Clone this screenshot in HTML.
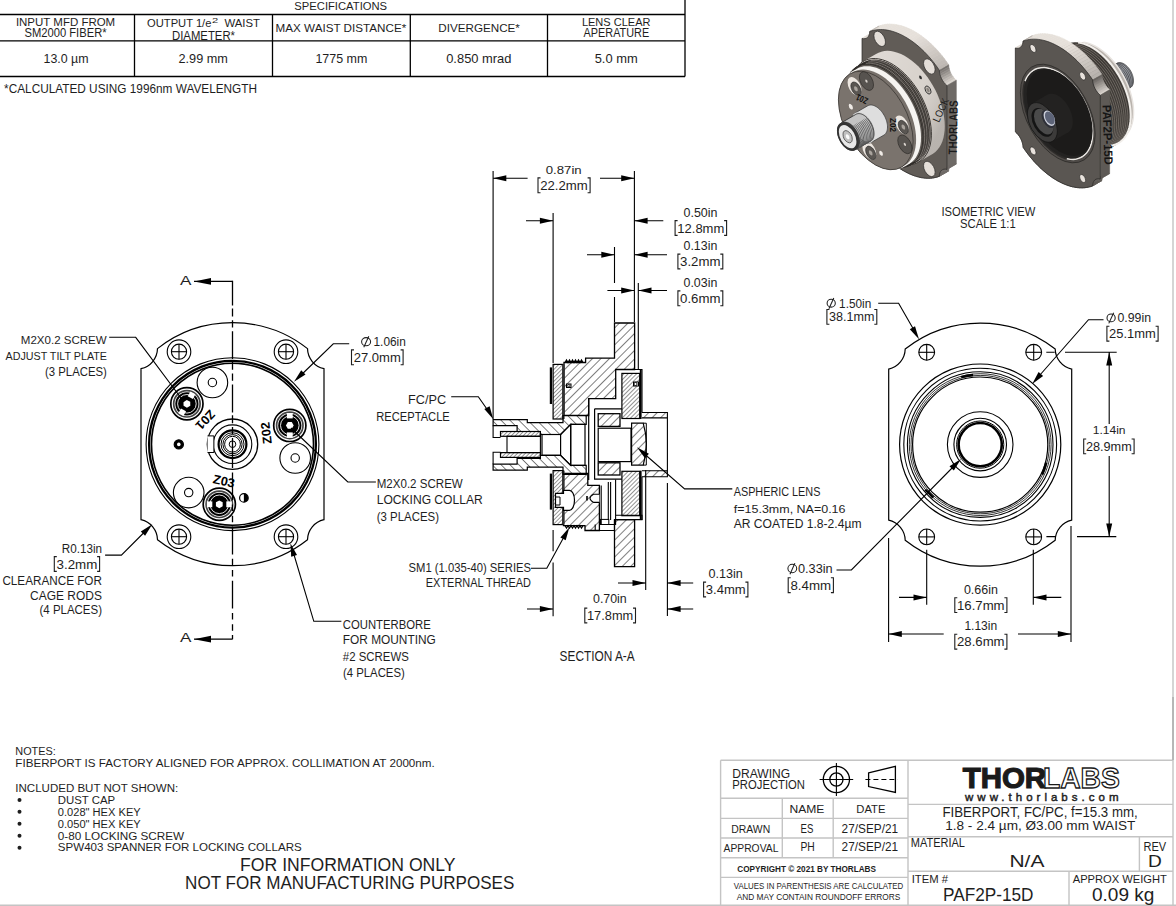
<!DOCTYPE html>
<html><head><meta charset="utf-8"><style>
html,body{margin:0;padding:0;background:#fff;}
body{width:1176px;height:906px;overflow:hidden;position:relative;}
svg{position:absolute;left:0;top:0;}
text{font-family:"Liberation Sans", sans-serif;}
</style></head><body>
<svg width="1176" height="906" viewBox="0 0 1176 906">
<defs>
<pattern id="h1" patternUnits="userSpaceOnUse" width="6" height="6" patternTransform="rotate(45)"><line x1="0" y1="0" x2="0" y2="6" stroke="#000" stroke-width="1.0"/></pattern>
<pattern id="h2" patternUnits="userSpaceOnUse" width="3" height="3" patternTransform="rotate(45)"><line x1="0" y1="0" x2="0" y2="3" stroke="#000" stroke-width="0.85"/></pattern>
<pattern id="h3" patternUnits="userSpaceOnUse" width="6.3" height="6.3" patternTransform="rotate(-45)"><line x1="0" y1="0" x2="0" y2="6.3" stroke="#000" stroke-width="1.0"/></pattern>
<pattern id="h4" patternUnits="userSpaceOnUse" width="2.8" height="2.8" patternTransform="rotate(45)"><line x1="0" y1="0" x2="0" y2="2.8" stroke="#000" stroke-width="0.8"/></pattern>

<linearGradient id="gbody" x1="0" y1="0" x2="1" y2="0.6"><stop offset="0" stop-color="#ffffff" stop-opacity="0.25"/><stop offset="0.6" stop-color="#ffffff" stop-opacity="0"/><stop offset="1" stop-color="#000" stop-opacity="0.15"/></linearGradient>
<clipPath id="cliplr1"><rect x="840" y="0" width="200" height="200"/></clipPath>
</defs>
<g stroke="#000" stroke-width="1.3" fill="none"><path d="M0 14.5 H685 M685 0 V76.5 M0 40.8 H685 M0 76.5 H685 M134.5 14.5 V76.5 M272.5 14.5 V76.5 M410.3 14.5 V76.5 M547.5 14.5 V76.5"/></g><circle cx="19.5" cy="799.9" r="2.0" stroke="#000" stroke-width="0" fill="#1e1e1e" /><circle cx="19.5" cy="811.85" r="2.0" stroke="#000" stroke-width="0" fill="#1e1e1e" /><circle cx="19.5" cy="823.8" r="2.0" stroke="#000" stroke-width="0" fill="#1e1e1e" /><circle cx="19.5" cy="835.75" r="2.0" stroke="#000" stroke-width="0" fill="#1e1e1e" /><circle cx="19.5" cy="847.6999999999999" r="2.0" stroke="#000" stroke-width="0" fill="#1e1e1e" /><g stroke="#c4c4c4" stroke-width="1.4" fill="none"><path d="M720.6 760.3 H1173 M1173 0 V906 M0 905.2 H1176 M720.6 760.3 V906 M908 760.3 V906 M720.6 798.2 H908 M720.6 818.4 H908 M720.6 838 H908 M720.6 857.7 H908 M720.6 877.4 H908 M782.3 798.2 V857.7 M833.2 798.2 V857.7 M908 804.4 H1173 M908 836.8 H1173 M908 871.3 H1173 M1139.4 836.8 V871.3 M1069 871.3 V906"/></g><line x1="1173" y1="697" x2="1173" y2="760" stroke="#aaaaaa" stroke-width="1.4"/><circle cx="836.4" cy="779.5" r="13.1" stroke="#000" stroke-width="1.3" fill="none" /><circle cx="836.4" cy="779.5" r="6.6" stroke="#000" stroke-width="1.3" fill="none" /><line x1="819.6" y1="779.5" x2="853.2" y2="779.5" stroke="#000" stroke-width="1.1" /><line x1="836.4" y1="762.9" x2="836.4" y2="796.1" stroke="#000" stroke-width="1.1" /><polygon points="868.6,772.9 895.4,766.4 895.4,792.5 868.6,786.6" fill="none" stroke="#000" stroke-width="1.3"/><line x1="865.4" y1="779.5" x2="897.5" y2="779.5" stroke="#000" stroke-width="1.1" stroke-dasharray="5 3"/><path d="M141.0 368.7 A21 21 0 0 0 157.5 348.6 A121.5 121.5 0 0 1 307.5 348.6 A21 21 0 0 0 324.0 368.7 L324.0 519.7 A21 21 0 0 0 307.5 539.8 A121.5 121.5 0 0 1 157.5 539.8 A21 21 0 0 0 141.0 519.7 Z" fill="none" stroke="#000" stroke-width="1.2"/><circle cx="179.0" cy="351.7" r="11.8" stroke="#000" stroke-width="1.1" fill="none" /><circle cx="179.0" cy="351.7" r="7.6" stroke="#000" stroke-width="1.1" fill="none" /><line x1="171.4" y1="351.7" x2="186.6" y2="351.7" stroke="#000" stroke-width="1.1" /><line x1="179.0" y1="344.09999999999997" x2="179.0" y2="359.3" stroke="#000" stroke-width="1.1" /><circle cx="179.0" cy="536.7" r="11.8" stroke="#000" stroke-width="1.1" fill="none" /><circle cx="179.0" cy="536.7" r="7.6" stroke="#000" stroke-width="1.1" fill="none" /><line x1="171.4" y1="536.7" x2="186.6" y2="536.7" stroke="#000" stroke-width="1.1" /><line x1="179.0" y1="529.1" x2="179.0" y2="544.3000000000001" stroke="#000" stroke-width="1.1" /><circle cx="286.0" cy="351.7" r="11.8" stroke="#000" stroke-width="1.1" fill="none" /><circle cx="286.0" cy="351.7" r="7.6" stroke="#000" stroke-width="1.1" fill="none" /><line x1="278.4" y1="351.7" x2="293.6" y2="351.7" stroke="#000" stroke-width="1.1" /><line x1="286.0" y1="344.09999999999997" x2="286.0" y2="359.3" stroke="#000" stroke-width="1.1" /><circle cx="286.0" cy="536.7" r="11.8" stroke="#000" stroke-width="1.1" fill="none" /><circle cx="286.0" cy="536.7" r="7.6" stroke="#000" stroke-width="1.1" fill="none" /><line x1="278.4" y1="536.7" x2="293.6" y2="536.7" stroke="#000" stroke-width="1.1" /><line x1="286.0" y1="529.1" x2="286.0" y2="544.3000000000001" stroke="#000" stroke-width="1.1" /><circle cx="232.5" cy="444.2" r="86.4" stroke="#000" stroke-width="1.1" fill="none" /><circle cx="232.5" cy="444.2" r="83.4" stroke="#000" stroke-width="2.3" fill="none" /><circle cx="232.5" cy="444.2" r="81.0" stroke="#000" stroke-width="1.6" fill="none" /><circle cx="232.5" cy="444.2" r="25.2" stroke="#000" stroke-width="1.3" fill="none" /><circle cx="232.5" cy="444.2" r="19.3" stroke="#000" stroke-width="1.1" fill="none" /><path d="M207.5 435.9 H213.9 V452.5 H207.5" fill="#fff" stroke="#000" stroke-width="1"/><circle cx="232.5" cy="444.2" r="13.9" stroke="#000" stroke-width="2.2" fill="none" /><circle cx="232.5" cy="444.2" r="11.5" stroke="#000" stroke-width="1.0" fill="none" /><circle cx="232.5" cy="444.2" r="9.6" stroke="#000" stroke-width="1.0" fill="none" /><circle cx="232.5" cy="444.2" r="7.9" stroke="#000" stroke-width="1.0" fill="none" /><circle cx="232.5" cy="444.2" r="3.3" stroke="#000" stroke-width="1.0" fill="none" /><circle cx="186.9" cy="403.8" r="16.1" stroke="#000" stroke-width="1.7" fill="#fff" /><circle cx="186.9" cy="403.8" r="13.2" stroke="#444" stroke-width="1.7" fill="none" /><circle cx="186.9" cy="403.8" r="11.6" stroke="#000" stroke-width="0" fill="#000" /><circle cx="186.9" cy="403.8" r="9.3" stroke="#fff" stroke-width="0.9" fill="none" /><polygon points="190.31,405.69 186.97,407.70 183.56,405.81 183.49,401.91 186.83,399.90 190.24,401.79" fill="#fff"/><g transform="translate(186.9 403.8) rotate(29)"><rect x="-2.9" y="-12.4" width="5.8" height="5.4" fill="#fff"/><rect x="-2.9" y="7.0" width="5.8" height="5.4" fill="#fff"/></g><circle cx="289.8" cy="425.4" r="16.1" stroke="#000" stroke-width="1.7" fill="#fff" /><circle cx="289.8" cy="425.4" r="13.2" stroke="#444" stroke-width="1.7" fill="none" /><circle cx="289.8" cy="425.4" r="11.6" stroke="#000" stroke-width="0" fill="#000" /><circle cx="289.8" cy="425.4" r="9.3" stroke="#fff" stroke-width="0.9" fill="none" /><polygon points="293.70,425.40 291.75,428.78 287.85,428.78 285.90,425.40 287.85,422.02 291.75,422.02" fill="#fff"/><g transform="translate(289.8 425.4) rotate(0)"><rect x="-2.9" y="-12.4" width="5.8" height="5.4" fill="#fff"/><rect x="-2.9" y="7.0" width="5.8" height="5.4" fill="#fff"/></g><circle cx="219.3" cy="504.3" r="16.1" stroke="#000" stroke-width="1.7" fill="#fff" /><circle cx="219.3" cy="504.3" r="13.2" stroke="#444" stroke-width="1.7" fill="none" /><circle cx="219.3" cy="504.3" r="11.6" stroke="#000" stroke-width="0" fill="#000" /><circle cx="219.3" cy="504.3" r="9.3" stroke="#fff" stroke-width="0.9" fill="none" /><polygon points="219.30,508.20 215.92,506.25 215.92,502.35 219.30,500.40 222.68,502.35 222.68,506.25" fill="#fff"/><g transform="translate(219.3 504.3) rotate(90)"><rect x="-2.9" y="-12.4" width="5.8" height="5.4" fill="#fff"/><rect x="-2.9" y="7.0" width="5.8" height="5.4" fill="#fff"/></g><circle cx="212.4" cy="382.5" r="15.3" stroke="#000" stroke-width="1.1" fill="none" /><circle cx="212.4" cy="382.5" r="4.2" stroke="#000" stroke-width="1.1" fill="none" /><circle cx="295.2" cy="458.0" r="15.3" stroke="#000" stroke-width="1.1" fill="none" /><circle cx="295.2" cy="458.0" r="4.2" stroke="#000" stroke-width="1.1" fill="none" /><circle cx="188.7" cy="492.6" r="15.3" stroke="#000" stroke-width="1.1" fill="none" /><circle cx="188.7" cy="492.6" r="4.2" stroke="#000" stroke-width="1.1" fill="none" /><circle cx="178.8" cy="444.4" r="4.6" stroke="#000" stroke-width="1.2" fill="#000" /><circle cx="178.8" cy="444.4" r="1.8" stroke="#000" stroke-width="0" fill="#fff" /><circle cx="243.9" cy="497.9" r="4.3" stroke="#000" stroke-width="1.2" fill="none" /><path d="M243.9 493.6 A4.3 4.3 0 0 1 243.9 502.2 Z" fill="#000"/><text x="0" y="0" font-size="12.5" font-weight="bold" fill="#000" text-anchor="middle" transform="translate(205.5 420) rotate(133) translate(0 4.5)" textLength="22" lengthAdjust="spacingAndGlyphs">Z01</text><text x="0" y="0" font-size="12.5" font-weight="bold" fill="#000" text-anchor="middle" transform="translate(266 433) rotate(-96) translate(0 4.5)" textLength="22" lengthAdjust="spacingAndGlyphs">Z02</text><text x="0" y="0" font-size="12.5" font-weight="bold" fill="#000" text-anchor="middle" transform="translate(224 481) rotate(12) translate(0 4.5)" textLength="22" lengthAdjust="spacingAndGlyphs">Z03</text><path d="M232.5 639.2 V462" stroke="#000" stroke-width="1.3" fill="none" stroke-dasharray="27.8 4.3 6.5 4.8 6.5 4.3" stroke-dashoffset="23.6"/><path d="M232.5 280.8 V462" stroke="#000" stroke-width="1.3" fill="none" stroke-dasharray="27.8 2.8 8 3.8 7.2 3.8" stroke-dashoffset="3"/><path d="M194 281.4 H232.5 M194 639.2 H232.5" stroke="#000" stroke-width="1.3" fill="none"/><polygon points="194.0,281.4 211.0,278.0 211.0,284.8" fill="#000"/><polygon points="194.0,639.2 211.0,635.8 211.0,642.6" fill="#000"/><path d="M109.2 337.3 H135.7 L184 402" fill="none" stroke="#000" stroke-width="1.1"/><path d="M105.1 555.1 H121.4 L149 527.5" fill="none" stroke="#000" stroke-width="1.1"/><polygon points="152.3,524.3 145.1,535.8 140.8,531.5" fill="#000"/><path d="M56.8 556.6 H54.3 V571.4 H56.8 M97.1 556.6 H99.6 V571.4 H97.1" fill="none" stroke="#1e1e1e" stroke-width="1.1"/><path d="M349.2 343.8 H333.3 L297 379" fill="none" stroke="#000" stroke-width="1.1"/><polygon points="294.0,381.7 301.2,370.2 305.5,374.5" fill="#000"/><ellipse cx="366.1" cy="341.7" rx="4.5" ry="4.1" fill="none" stroke="#1e1e1e" stroke-width="1.05"/><line x1="363.8" y1="347.3" x2="368.8" y2="336.3" stroke="#1e1e1e" stroke-width="1.05"/><path d="M354.0 349.9 H351.5 V364.7 H354.0 M400.6 349.9 H403.1 V364.7 H400.6" fill="none" stroke="#1e1e1e" stroke-width="1.1"/><path d="M375.9 482 H347.8 L291 428" fill="none" stroke="#000" stroke-width="1.1"/><path d="M341.4 621.3 H313.8 L292 548" fill="none" stroke="#000" stroke-width="1.1"/><polygon points="290.4,543.2 297.0,555.0 291.2,556.7" fill="#000"/><polygon points="614.5,323.0 634.6,323.0 634.6,369.5 615.7,369.5 615.7,398.7 588.7,398.7 588.7,415.5 564.0,415.5 564.0,362.5 585.6,362.5 585.6,358.2 614.5,358.2" fill="url(#h1)" stroke="#000" stroke-width="1.3" stroke-linejoin="miter" /><polygon points="563.5,473.5 587.8,473.5 587.8,485.4 599.4,485.4 599.4,530.5 585.0,530.5 585.0,525.6 563.5,525.6" fill="url(#h1)" stroke="#000" stroke-width="1.3" stroke-linejoin="miter" /><polygon points="614.5,519.6 634.6,519.6 634.6,566.7 614.5,566.7" fill="url(#h1)" stroke="#000" stroke-width="1.3" stroke-linejoin="miter" /><path d="M615.6 479.5 V524.5 H599.4 M595.2 524.5 V530.5 H614.5 V519.6 M601.2 485.4 V524.5 M608.3 482 V520 M610.6 482 V520 M615.6 515.2 H642 V519.6 H614.5" fill="none" stroke="#000" stroke-width="1.1"/><rect x="600.5" y="519.4" width="8.3" height="5.1" fill="none" stroke="#000" stroke-width="1"/><path d="M599.4 494.2 H593.5 Q586.5 498.3 593.5 502.4 H599.4" fill="#fff" stroke="#000" stroke-width="1.1"/><rect x="586.2" y="496" width="1.6" height="4.5" fill="#000"/><path d="M565 362.5 l1.5 -2.5 l1.5 2.5 l1.5 -2.5 l1.5 2.5 l1.5 -2.5 l1.5 2.5 l1.5 -2.5 l1.5 2.5 l1.5 -2.5 l1.5 2.5 l1.5 -2.5 l1.5 2.5" fill="none" stroke="#000" stroke-width="1.2"/><path d="M565 525.6 l1.5 2.5 l1.5 -2.5 l1.5 2.5 l1.5 -2.5 l1.5 2.5 l1.5 -2.5 l1.5 2.5 l1.5 -2.5 l1.5 2.5 l1.5 -2.5 l1.5 2.5 l1.5 -2.5" fill="none" stroke="#000" stroke-width="1.2"/><rect x="553.1" y="364.4" width="9.8" height="54.6" fill="url(#h4)" stroke="#000" stroke-width="1.2"/><rect x="549.8" y="367.4" width="2.2" height="36.6" fill="#000"/><line x1="563.5" y1="364.4" x2="563.5" y2="419.0" stroke="#333" stroke-width="2.2" /><rect x="553.1" y="470.6" width="9.8" height="54.0" fill="url(#h4)" stroke="#000" stroke-width="1.2"/><rect x="549.8" y="473.6" width="2.2" height="36.0" fill="#000"/><line x1="563.5" y1="470.6" x2="563.5" y2="524.6" stroke="#333" stroke-width="2.2" /><path d="M555.5 493.3 h8 v-3 h6 a5 10 0 0 1 0 20 h-6 v-3 h-8 Z" fill="#fff" stroke="#000" stroke-width="1.2"/><path d="M556 497 h4 v8 h-4" fill="none" stroke="#000" stroke-width="1"/><rect x="566.5" y="384" width="4.5" height="3.5" fill="#fff" stroke="#000" stroke-width="1"/><circle cx="568.8" cy="385.8" r="1.2" fill="none" stroke="#000" stroke-width="0.8"/><rect x="621.9" y="373.4" width="17.8" height="45.1" fill="url(#h2)" stroke="#000" stroke-width="1.2"/><rect x="621.9" y="471.3" width="17.8" height="44.4" fill="url(#h2)" stroke="#000" stroke-width="1.2"/><line x1="640.7" y1="369.5" x2="640.7" y2="419" stroke="#000" stroke-width="1.8" /><line x1="640.7" y1="470.7" x2="640.7" y2="520" stroke="#000" stroke-width="1.8" /><path d="M615.7 369.5 H642 V412.5 M615.7 519.5 H642 V476.8" fill="none" stroke="#000" stroke-width="1.1"/><rect x="633.5" y="382" width="5" height="4" fill="#fff" stroke="#000" stroke-width="1"/><circle cx="635.5" cy="384" r="1.6" fill="none" stroke="#000" stroke-width="0.9"/><path d="M588.7 398.7 V480 M594.6 408.8 V479.2 H621.9 M594.6 408.8 H621.9" fill="none" stroke="#000" stroke-width="1.2"/><rect x="598.2" y="413.7" width="21.8" height="12.7" fill="url(#h1)" stroke="#000" stroke-width="1.3"/><rect x="598.2" y="462.8" width="21.8" height="12.2" fill="url(#h1)" stroke="#000" stroke-width="1.3"/><rect x="598.2" y="428.2" width="32.8" height="33.4" fill="none" stroke="#000" stroke-width="1.2"/><path d="M631.6 423.2 H643.2 Q649.5 444.2 643.2 465.1 H631.6 Z" fill="url(#h1)" stroke="#000" stroke-width="1.2"/><path d="M643.2 423.2 H646.3 V465.1 H643.2" fill="none" stroke="#000" stroke-width="1"/><path d="M641.9 412.5 H667.4 V476.8 H641.9 M641.9 417.9 H667.4 M641.9 470.7 H667.4" fill="none" stroke="#000" stroke-width="1.1"/><path d="M641.9 412.5 H667.4 V417.9 H641.9 Z" fill="url(#h1)" stroke="none"/><path d="M641.9 470.7 H667.4 V476.8 H641.9 Z" fill="url(#h1)" stroke="none"/><polygon points="493.1,419.6 527.3,419.6 527.3,422.6 563.0,422.6 563.0,415.5 586.2,415.5 586.2,424.4 570.7,424.4 560.6,434.5 540.4,434.5 540.4,431.5 517.1,431.5 517.1,425.6 493.1,425.6" fill="url(#h3)" stroke="#000" stroke-width="1.2" stroke-linejoin="miter" /><polygon points="493.1,470.2 527.3,470.2 527.3,467.2 563.0,467.2 563.0,474.3 586.2,474.3 586.2,465.4 570.7,465.4 560.6,455.3 540.4,455.3 540.4,458.3 517.1,458.3 517.1,464.2 493.1,464.2" fill="url(#h3)" stroke="#000" stroke-width="1.2" stroke-linejoin="miter" /><rect x="500.5" y="431.5" width="39.9" height="4.8" fill="url(#h4)" stroke="#000" stroke-width="1.2"/><rect x="500.5" y="452.6" width="39.9" height="4.8" fill="url(#h4)" stroke="#000" stroke-width="1.2"/><rect x="507.0" y="436.3" width="33.4" height="16.3" fill="none" stroke="#000" stroke-width="1.1"/><path d="M493.1 425.6 V437.5 H500.5 M493.1 464.2 V452.3 H500.5" fill="none" stroke="#000" stroke-width="1.1"/><rect x="542.0" y="434.5" width="18.6" height="20.8" fill="none" stroke="#000" stroke-width="1.2"/><path d="M560.6 434.5 L570.7 424.4 V465.4 L560.6 455.3" fill="none" stroke="#000" stroke-width="1.2"/><rect x="570.7" y="424.4" width="14.3" height="41.0" fill="none" stroke="#000" stroke-width="1.2"/><g stroke="#000" stroke-width="1.1" fill="none"><path d="M493.1 171 V419 M634.4 171 V322 M553.1 213 V363 M614.5 247 V283 M614.5 297 V322 M638.3 283 V369"/><path d="M493.1 178.2 H527.6 M600 178.2 H634.4 M526 220.7 H553.1 M634.4 220.7 H663.3 M587 254.8 H614.5 M634.4 254.8 H667 M607.4 290.5 H634.4 M638.3 290.5 H667"/><path d="M553.1 529.9 V551.3 M553.1 562.4 V616.3 M645.7 470 V590 M667.4 483 V616 M618 583 H645.7 M667.4 583 H693.2 M527 609 H553.1 M667.4 609 H693.2"/></g><polygon points="493.1,178.2 506.3,175.2 506.3,181.2" fill="#000"/><polygon points="634.4,178.2 621.2,181.2 621.2,175.2" fill="#000"/><polygon points="553.1,220.7 539.9,223.7 539.9,217.7" fill="#000"/><polygon points="634.4,220.7 647.6,217.7 647.6,223.7" fill="#000"/><polygon points="614.5,254.8 601.3,257.8 601.3,251.8" fill="#000"/><polygon points="634.4,254.8 647.6,251.8 647.6,257.8" fill="#000"/><polygon points="634.4,290.5 621.2,293.5 621.2,287.5" fill="#000"/><polygon points="638.3,290.5 651.5,287.5 651.5,293.5" fill="#000"/><polygon points="645.7,583.0 632.5,586.0 632.5,580.0" fill="#000"/><polygon points="667.4,583.0 680.6,580.0 680.6,586.0" fill="#000"/><polygon points="553.1,609.0 539.9,612.0 539.9,606.0" fill="#000"/><polygon points="667.4,609.0 680.6,606.0 680.6,612.0" fill="#000"/><path d="M451.2 396.7 H478.3 L489 412" fill="none" stroke="#000" stroke-width="1.1"/><polygon points="493.3,419.2 484.3,409.1 489.6,406.2" fill="#000"/><path d="M531 568.2 H546.8 L565 535" fill="none" stroke="#000" stroke-width="1.1"/><polygon points="569.4,527.3 565.7,540.3 560.4,537.4" fill="#000"/><path d="M732.3 488.9 H684.6 L641 451" fill="none" stroke="#000" stroke-width="1.1"/><polygon points="637.0,447.3 648.9,453.7 645.0,458.2" fill="#000"/><path d="M540.5 177.9 H538.0 V192.7 H540.5 M587.6 177.9 H590.1 V192.7 H587.6" fill="none" stroke="#1e1e1e" stroke-width="1.1"/><path d="M677.6 220.6 H675.1 V235.4 H677.6 M724.1 220.6 H726.6 V235.4 H724.1" fill="none" stroke="#1e1e1e" stroke-width="1.1"/><path d="M680.4 254.1 H677.9 V268.9 H680.4 M720.3 254.1 H722.8 V268.9 H720.3" fill="none" stroke="#1e1e1e" stroke-width="1.1"/><path d="M680.4 290.9 H677.9 V305.7 H680.4 M720.3 290.9 H722.8 V305.7 H720.3" fill="none" stroke="#1e1e1e" stroke-width="1.1"/><path d="M706.1 582.1 H703.6 V596.9 H706.1 M745.4 582.1 H747.9 V596.9 H745.4" fill="none" stroke="#1e1e1e" stroke-width="1.1"/><path d="M587.3 608.1 H584.8 V622.9 H587.3 M633.0 608.1 H635.5 V622.9 H633.0" fill="none" stroke="#1e1e1e" stroke-width="1.1"/><path d="M888.7 369.1 A21 21 0 0 0 905.2 349.0 A121.5 121.5 0 0 1 1055.2 349.0 A21 21 0 0 0 1071.7 369.1 L1071.7 520.1 A21 21 0 0 0 1055.2 540.2 A121.5 121.5 0 0 1 905.2 540.2 A21 21 0 0 0 888.7 520.1 Z" fill="none" stroke="#000" stroke-width="1.2"/><circle cx="926.7" cy="352.3" r="7.9" stroke="#000" stroke-width="1.1" fill="none" /><line x1="918.8000000000001" y1="352.3" x2="934.6" y2="352.3" stroke="#000" stroke-width="1.1" /><line x1="926.7" y1="344.40000000000003" x2="926.7" y2="360.2" stroke="#000" stroke-width="1.1" /><circle cx="926.7" cy="536.9" r="7.9" stroke="#000" stroke-width="1.1" fill="none" /><line x1="918.8000000000001" y1="536.9" x2="934.6" y2="536.9" stroke="#000" stroke-width="1.1" /><line x1="926.7" y1="529.0" x2="926.7" y2="544.8" stroke="#000" stroke-width="1.1" /><circle cx="1033.7" cy="352.3" r="7.9" stroke="#000" stroke-width="1.1" fill="none" /><line x1="1025.8" y1="352.3" x2="1041.6000000000001" y2="352.3" stroke="#000" stroke-width="1.1" /><line x1="1033.7" y1="344.40000000000003" x2="1033.7" y2="360.2" stroke="#000" stroke-width="1.1" /><circle cx="1033.7" cy="536.9" r="7.9" stroke="#000" stroke-width="1.1" fill="none" /><line x1="1025.8" y1="536.9" x2="1041.6000000000001" y2="536.9" stroke="#000" stroke-width="1.1" /><line x1="1033.7" y1="529.0" x2="1033.7" y2="544.8" stroke="#000" stroke-width="1.1" /><circle cx="980.2" cy="444.6" r="80.6" stroke="#000" stroke-width="1.2" fill="none" /><circle cx="980.2" cy="444.6" r="76.4" stroke="#000" stroke-width="1.1" fill="none" /><circle cx="980.2" cy="444.6" r="72.8" stroke="#000" stroke-width="1.1" fill="none" /><circle cx="980.2" cy="444.6" r="70.9" stroke="#000" stroke-width="0.8" fill="none" /><circle cx="980.2" cy="444.6" r="69.2" stroke="#000" stroke-width="0.8" fill="none" /><circle cx="980.2" cy="444.6" r="67.6" stroke="#000" stroke-width="1.2" fill="none" /><circle cx="980.2" cy="444.6" r="32.8" stroke="#000" stroke-width="1.1" fill="none" /><circle cx="980.2" cy="444.6" r="26.3" stroke="#000" stroke-width="1.1" fill="none" /><circle cx="980.2" cy="444.6" r="23.6" stroke="#000" stroke-width="1.0" fill="none" /><circle cx="980.2" cy="444.6" r="21.6" stroke="#000" stroke-width="2.6" fill="none" /><path d="M961.2 377.1 A70 70 0 0 1 973.2 375.0" stroke="#000" stroke-width="2.5" fill="none"/><path d="M1046.2 462.6 A68.5 68.5 0 0 1 1042.2 474.6" stroke="#000" stroke-width="2.5" fill="none"/><path d="M925.2 489.6 A70 70 0 0 1 933.2 497.6" stroke="#000" stroke-width="2.5" fill="none"/><g stroke="#000" stroke-width="1.1" fill="none"><path d="M1046.3 352.3 H1054.7 M1065 352.3 H1116.7 M1046.4 536.6 H1056 M1077 536.6 H1116.3 M1109.2 352.3 V424 M1109.2 456 V536.6"/><path d="M926.7 549.8 V604.8 M1033.3 549.8 V604.8 M888.6 537.9 V642 M1071 526 V642"/><path d="M899 597.4 H926.7 M1033.3 597.4 H1061.3 M888.6 634 H943.7 M1018 634 H1071"/><path d="M1103.5 319.7 H1088.5 L1036 379.5 M836.5 570 H851.4 L957 463 M878.2 303.2 H898.6 L916.5 334.5"/></g><polygon points="1109.2,352.3 1112.2,365.5 1106.2,365.5" fill="#000"/><polygon points="1109.2,536.6 1106.2,523.4 1112.2,523.4" fill="#000"/><polygon points="926.7,597.4 913.5,600.4 913.5,594.4" fill="#000"/><polygon points="1033.3,597.4 1046.5,594.4 1046.5,600.4" fill="#000"/><polygon points="888.6,634.0 901.8,631.0 901.8,637.0" fill="#000"/><polygon points="1071.0,634.0 1057.8,637.0 1057.8,631.0" fill="#000"/><polygon points="1032.2,383.9 1038.6,372.0 1043.1,375.9" fill="#000"/><polygon points="961.0,459.0 953.8,470.5 949.5,466.2" fill="#000"/><polygon points="919.0,339.2 909.8,329.3 915.0,326.3" fill="#000"/><ellipse cx="831.2" cy="303.2" rx="4.1" ry="3.9" fill="none" stroke="#1e1e1e" stroke-width="1.05"/><line x1="828.9" y1="308.7" x2="833.8" y2="298.0" stroke="#1e1e1e" stroke-width="1.05"/><path d="M829.4 309.5 H826.9 V324.3 H829.4 M874.3 309.5 H876.8 V324.3 H874.3" fill="none" stroke="#1e1e1e" stroke-width="1.1"/><ellipse cx="1111.1" cy="317.9" rx="4.1" ry="3.9" fill="none" stroke="#1e1e1e" stroke-width="1.05"/><line x1="1108.8" y1="323.4" x2="1113.7" y2="312.7" stroke="#1e1e1e" stroke-width="1.05"/><path d="M1109.4 326.3 H1106.9 V341.1 H1109.4 M1155.6 326.3 H1158.1 V341.1 H1155.6" fill="none" stroke="#1e1e1e" stroke-width="1.1"/><path d="M1086.2 439.0 H1083.7 V453.8 H1086.2 M1131.6 439.0 H1134.1 V453.8 H1131.6" fill="none" stroke="#1e1e1e" stroke-width="1.1"/><path d="M957.3 597.7 H954.8 V612.5 H957.3 M1004.4 597.7 H1006.9 V612.5 H1004.4" fill="none" stroke="#1e1e1e" stroke-width="1.1"/><path d="M957.3 634.3 H954.8 V649.1 H957.3 M1004.4 634.3 H1006.9 V649.1 H1004.4" fill="none" stroke="#1e1e1e" stroke-width="1.1"/><ellipse cx="792.3" cy="568.5" rx="4.4" ry="4.2" fill="none" stroke="#1e1e1e" stroke-width="1.05"/><line x1="790.0" y1="574.2" x2="794.9" y2="563.1" stroke="#1e1e1e" stroke-width="1.05"/><path d="M790.7 577.8 H788.2 V592.6 H790.7 M830.9 577.8 H833.4 V592.6 H830.9" fill="none" stroke="#1e1e1e" stroke-width="1.1"/><g><polygon points="869.70,31.50 871.70,30.82 881.06,25.42 879.06,26.10" fill="#e6e0da" stroke="#e6e0da" stroke-width="0.6"/><polygon points="871.70,30.82 873.77,30.28 883.13,24.88 881.06,25.42" fill="#e6e0da" stroke="#e6e0da" stroke-width="0.6"/><polygon points="873.77,30.28 875.89,29.89 885.25,24.49 883.13,24.88" fill="#e6e0da" stroke="#e6e0da" stroke-width="0.6"/><polygon points="875.89,29.89 878.08,29.64 887.44,24.24 885.25,24.49" fill="#e6e0da" stroke="#e6e0da" stroke-width="0.6"/><polygon points="878.08,29.64 880.31,29.54 889.67,24.14 887.44,24.24" fill="#e6e0da" stroke="#e6e0da" stroke-width="0.6"/><polygon points="880.31,29.54 882.59,29.59 891.95,24.19 889.67,24.14" fill="#e6e0da" stroke="#e6e0da" stroke-width="0.6"/><polygon points="882.59,29.59 884.92,29.78 894.28,24.38 891.95,24.19" fill="#e6e0da" stroke="#e6e0da" stroke-width="0.6"/><polygon points="884.92,29.78 887.28,30.12 896.64,24.72 894.28,24.38" fill="#e6e0da" stroke="#e6e0da" stroke-width="0.6"/><polygon points="887.28,30.12 889.68,30.60 899.04,25.20 896.64,24.72" fill="#e6e0da" stroke="#e6e0da" stroke-width="0.6"/><polygon points="889.68,30.60 892.10,31.22 901.46,25.82 899.04,25.20" fill="#e6e0da" stroke="#e6e0da" stroke-width="0.6"/><polygon points="892.10,31.22 894.55,31.99 903.91,26.59 901.46,25.82" fill="#e6e0da" stroke="#e6e0da" stroke-width="0.6"/><polygon points="894.55,31.99 897.02,32.91 906.38,27.51 903.91,26.59" fill="#e6e0da" stroke="#e6e0da" stroke-width="0.6"/><polygon points="897.02,32.91 899.51,33.96 908.87,28.56 906.38,27.51" fill="#e6e0da" stroke="#e6e0da" stroke-width="0.6"/><polygon points="899.51,33.96 902.00,35.14 911.36,29.74 908.87,28.56" fill="#e6e0da" stroke="#e6e0da" stroke-width="0.6"/><polygon points="902.00,35.14 904.50,36.47 913.86,31.07 911.36,29.74" fill="#e6e0da" stroke="#e6e0da" stroke-width="0.6"/><polygon points="904.50,36.47 907.00,37.92 916.36,32.52 913.86,31.07" fill="#e6e0da" stroke="#e6e0da" stroke-width="0.6"/><polygon points="907.00,37.92 909.49,39.51 918.85,34.11 916.36,32.52" fill="#e6e0da" stroke="#e6e0da" stroke-width="0.6"/><polygon points="909.49,39.51 911.98,41.22 921.34,35.82 918.85,34.11" fill="#e5dfd9" stroke="#e5dfd9" stroke-width="0.6"/><polygon points="911.98,41.22 914.45,43.06 923.81,37.66 921.34,35.82" fill="#e2dcd6" stroke="#e2dcd6" stroke-width="0.6"/><polygon points="914.45,43.06 916.90,45.01 926.26,39.61 923.81,37.66" fill="#dfd9d4" stroke="#dfd9d4" stroke-width="0.6"/><polygon points="916.90,45.01 919.32,47.08 928.68,41.68 926.26,39.61" fill="#dcd6d1" stroke="#dcd6d1" stroke-width="0.6"/><polygon points="919.32,47.08 921.72,49.27 931.08,43.87 928.68,41.68" fill="#d9d3ce" stroke="#d9d3ce" stroke-width="0.6"/><polygon points="921.72,49.27 924.08,51.56 933.44,46.16 931.08,43.87" fill="#d6d0ca" stroke="#d6d0ca" stroke-width="0.6"/><polygon points="924.08,51.56 926.41,53.95 935.77,48.55 933.44,46.16" fill="#d3cdc7" stroke="#d3cdc7" stroke-width="0.6"/><polygon points="926.41,53.95 928.69,56.44 938.05,51.04 935.77,48.55" fill="#cfc9c4" stroke="#cfc9c4" stroke-width="0.6"/><polygon points="928.69,56.44 930.92,59.03 940.28,53.63 938.05,51.04" fill="#ccc6c0" stroke="#ccc6c0" stroke-width="0.6"/><polygon points="930.92,59.03 933.11,61.70 942.47,56.30 940.28,53.63" fill="#c8c2bd" stroke="#c8c2bd" stroke-width="0.6"/><polygon points="933.11,61.70 935.23,64.46 944.59,59.06 942.47,56.30" fill="#c4bfb9" stroke="#c4bfb9" stroke-width="0.6"/><polygon points="935.23,64.46 937.30,67.29 946.66,61.89 944.59,59.06" fill="#c1bbb6" stroke="#c1bbb6" stroke-width="0.6"/><polygon points="937.30,67.29 939.30,70.19 948.66,64.79 946.66,61.89" fill="#bdb7b2" stroke="#bdb7b2" stroke-width="0.6"/><polygon points="939.30,70.19 939.30,70.19 948.66,64.79 948.66,64.79" fill="#e6e0da" stroke="#e6e0da" stroke-width="0.6"/><polygon points="939.30,70.19 939.47,72.22 948.83,66.82 948.66,64.79" fill="#75716d" stroke="#75716d" stroke-width="0.6"/><polygon points="939.47,72.22 939.90,74.33 949.26,68.93 948.83,66.82" fill="#837e7a" stroke="#837e7a" stroke-width="0.6"/><polygon points="939.90,74.33 940.59,76.48 949.95,71.08 949.26,68.93" fill="#918c88" stroke="#918c88" stroke-width="0.6"/><polygon points="940.59,76.48 941.51,78.59 950.87,73.19 949.95,71.08" fill="#a09b96" stroke="#a09b96" stroke-width="0.6"/><polygon points="941.51,78.59 942.64,80.61 952.00,75.21 950.87,73.19" fill="#afaaa5" stroke="#afaaa5" stroke-width="0.6"/><polygon points="942.64,80.61 943.95,82.49 953.31,77.09 952.00,75.21" fill="#beb8b3" stroke="#beb8b3" stroke-width="0.6"/><polygon points="943.95,82.49 945.40,84.17 954.76,78.77 953.31,77.09" fill="#ccc6c0" stroke="#ccc6c0" stroke-width="0.6"/><polygon points="945.40,84.17 946.95,85.61 956.31,80.21 954.76,78.77" fill="#d8d3cd" stroke="#d8d3cd" stroke-width="0.6"/><polygon points="946.95,85.61 946.95,169.40 956.31,164.00 956.31,80.21" fill="#6e6a66" stroke="#6e6a66" stroke-width="0.6"/><polygon points="946.95,169.40 945.40,169.11 954.76,163.71 956.31,164.00" fill="#6e6a66" stroke="#6e6a66" stroke-width="0.6"/><polygon points="945.40,169.11 943.95,169.18 953.31,163.78 954.76,163.71" fill="#6e6a66" stroke="#6e6a66" stroke-width="0.6"/><polygon points="943.95,169.18 942.64,169.60 952.00,164.20 953.31,163.78" fill="#6e6a66" stroke="#6e6a66" stroke-width="0.6"/><polygon points="942.64,169.60 941.51,170.37 950.87,164.97 952.00,164.20" fill="#6e6a66" stroke="#6e6a66" stroke-width="0.6"/><polygon points="941.51,170.37 940.59,171.46 949.95,166.06 950.87,164.97" fill="#6e6a66" stroke="#6e6a66" stroke-width="0.6"/><polygon points="940.59,171.46 939.90,172.84 949.26,167.44 949.95,166.06" fill="#6e6a66" stroke="#6e6a66" stroke-width="0.6"/><polygon points="939.90,172.84 939.47,174.47 948.83,169.07 949.26,167.44" fill="#6e6a66" stroke="#6e6a66" stroke-width="0.6"/><polygon points="939.47,174.47 939.30,176.31 948.66,170.91 948.83,169.07" fill="#6e6a66" stroke="#6e6a66" stroke-width="0.6"/><polygon points="939.30,176.31 939.30,176.30 948.66,170.90 948.66,170.91" fill="#8a8682" stroke="#8a8682" stroke-width="0.6"/><polygon points="939.30,176.30 937.30,176.98 946.66,171.58 948.66,170.90" fill="#6e6a66" stroke="#6e6a66" stroke-width="0.6"/><polygon points="937.30,176.98 935.23,177.52 944.59,172.12 946.66,171.58" fill="#6e6a66" stroke="#6e6a66" stroke-width="0.6"/><polygon points="935.23,177.52 933.11,177.91 942.47,172.51 944.59,172.12" fill="#6e6a66" stroke="#6e6a66" stroke-width="0.6"/><polygon points="933.11,177.91 930.92,178.16 940.28,172.76 942.47,172.51" fill="#6e6a66" stroke="#6e6a66" stroke-width="0.6"/><polygon points="930.92,178.16 928.69,178.26 938.05,172.86 940.28,172.76" fill="#6e6a66" stroke="#6e6a66" stroke-width="0.6"/><polygon points="928.69,178.26 926.41,178.21 935.77,172.81 938.05,172.86" fill="#6e6a66" stroke="#6e6a66" stroke-width="0.6"/><polygon points="926.41,178.21 924.08,178.02 933.44,172.62 935.77,172.81" fill="#6e6a66" stroke="#6e6a66" stroke-width="0.6"/><polygon points="924.08,178.02 921.72,177.68 931.08,172.28 933.44,172.62" fill="#6e6a66" stroke="#6e6a66" stroke-width="0.6"/><polygon points="921.72,177.68 919.32,177.20 928.68,171.80 931.08,172.28" fill="#6e6a66" stroke="#6e6a66" stroke-width="0.6"/><polygon points="919.32,177.20 916.90,176.58 926.26,171.18 928.68,171.80" fill="#6e6a66" stroke="#6e6a66" stroke-width="0.6"/><polygon points="916.90,176.58 914.45,175.81 923.81,170.41 926.26,171.18" fill="#6e6a66" stroke="#6e6a66" stroke-width="0.6"/><polygon points="914.45,175.81 911.98,174.89 921.34,169.49 923.81,170.41" fill="#6e6a66" stroke="#6e6a66" stroke-width="0.6"/><polygon points="911.98,174.89 909.49,173.84 918.85,168.44 921.34,169.49" fill="#6e6a66" stroke="#6e6a66" stroke-width="0.6"/><polygon points="909.49,173.84 907.00,172.66 916.36,167.26 918.85,168.44" fill="#6e6a66" stroke="#6e6a66" stroke-width="0.6"/><polygon points="907.00,172.66 904.50,171.33 913.86,165.93 916.36,167.26" fill="#6e6a66" stroke="#6e6a66" stroke-width="0.6"/><polygon points="904.50,171.33 902.00,169.88 911.36,164.48 913.86,165.93" fill="#6e6a66" stroke="#6e6a66" stroke-width="0.6"/><polygon points="902.00,169.88 899.51,168.29 908.87,162.89 911.36,164.48" fill="#6e6a66" stroke="#6e6a66" stroke-width="0.6"/><polygon points="899.51,168.29 897.02,166.58 906.38,161.18 908.87,162.89" fill="#6e6a66" stroke="#6e6a66" stroke-width="0.6"/><polygon points="897.02,166.58 894.55,164.74 903.91,159.34 906.38,161.18" fill="#6e6a66" stroke="#6e6a66" stroke-width="0.6"/><polygon points="894.55,164.74 892.10,162.79 901.46,157.39 903.91,159.34" fill="#6e6a66" stroke="#6e6a66" stroke-width="0.6"/><polygon points="892.10,162.79 889.68,160.72 899.04,155.32 901.46,157.39" fill="#6e6a66" stroke="#6e6a66" stroke-width="0.6"/><polygon points="889.68,160.72 887.28,158.53 896.64,153.13 899.04,155.32" fill="#6e6a66" stroke="#6e6a66" stroke-width="0.6"/><polygon points="887.28,158.53 884.92,156.24 894.28,150.84 896.64,153.13" fill="#716d69" stroke="#716d69" stroke-width="0.6"/><polygon points="884.92,156.24 882.59,153.85 891.95,148.45 894.28,150.84" fill="#74706c" stroke="#74706c" stroke-width="0.6"/><polygon points="882.59,153.85 880.31,151.36 889.67,145.96 891.95,148.45" fill="#787470" stroke="#787470" stroke-width="0.6"/><polygon points="880.31,151.36 878.08,148.77 887.44,143.37 889.67,145.96" fill="#7b7773" stroke="#7b7773" stroke-width="0.6"/><polygon points="878.08,148.77 875.89,146.10 885.25,140.70 887.44,143.37" fill="#7f7b76" stroke="#7f7b76" stroke-width="0.6"/><polygon points="875.89,146.10 873.77,143.34 883.13,137.94 885.25,140.70" fill="#837e7a" stroke="#837e7a" stroke-width="0.6"/><polygon points="873.77,143.34 871.70,140.51 881.06,135.11 883.13,137.94" fill="#86827e" stroke="#86827e" stroke-width="0.6"/><polygon points="871.70,140.51 869.70,137.61 879.06,132.21 881.06,135.11" fill="#8a8681" stroke="#8a8681" stroke-width="0.6"/><polygon points="869.70,137.61 869.70,137.61 879.06,132.21 879.06,132.21" fill="#6e6a66" stroke="#6e6a66" stroke-width="0.6"/><polygon points="869.70,137.61 869.53,135.58 878.89,130.18 879.06,132.21" fill="#d2ccc7" stroke="#d2ccc7" stroke-width="0.6"/><polygon points="869.53,135.58 869.10,133.47 878.46,128.07 878.89,130.18" fill="#c4bfb9" stroke="#c4bfb9" stroke-width="0.6"/><polygon points="869.10,133.47 868.41,131.32 877.77,125.92 878.46,128.07" fill="#b6b1ac" stroke="#b6b1ac" stroke-width="0.6"/><polygon points="868.41,131.32 867.49,129.21 876.85,123.81 877.77,125.92" fill="#a7a29d" stroke="#a7a29d" stroke-width="0.6"/><polygon points="867.49,129.21 866.36,127.19 875.72,121.79 876.85,123.81" fill="#98938f" stroke="#98938f" stroke-width="0.6"/><polygon points="866.36,127.19 865.05,125.31 874.41,119.91 875.72,121.79" fill="#898581" stroke="#898581" stroke-width="0.6"/><polygon points="865.05,125.31 863.60,123.63 872.96,118.23 874.41,119.91" fill="#7b7773" stroke="#7b7773" stroke-width="0.6"/><polygon points="863.60,123.63 862.05,122.19 871.41,116.79 872.96,118.23" fill="#6f6b67" stroke="#6f6b67" stroke-width="0.6"/><polygon points="862.05,122.19 862.05,38.40 871.41,33.00 871.41,116.79" fill="#dad4ce" stroke="#dad4ce" stroke-width="0.6"/><polygon points="862.05,38.40 863.60,38.69 872.96,33.29 871.41,33.00" fill="#e6e0da" stroke="#e6e0da" stroke-width="0.6"/><polygon points="863.60,38.69 865.05,38.62 874.41,33.22 872.96,33.29" fill="#e6e0da" stroke="#e6e0da" stroke-width="0.6"/><polygon points="865.05,38.62 866.36,38.20 875.72,32.80 874.41,33.22" fill="#e6e0da" stroke="#e6e0da" stroke-width="0.6"/><polygon points="866.36,38.20 867.49,37.43 876.85,32.03 875.72,32.80" fill="#e6e0da" stroke="#e6e0da" stroke-width="0.6"/><polygon points="867.49,37.43 868.41,36.34 877.77,30.94 876.85,32.03" fill="#e6e0da" stroke="#e6e0da" stroke-width="0.6"/><polygon points="868.41,36.34 869.10,34.96 878.46,29.56 877.77,30.94" fill="#e6e0da" stroke="#e6e0da" stroke-width="0.6"/><polygon points="869.10,34.96 869.53,33.33 878.89,27.93 878.46,29.56" fill="#e6e0da" stroke="#e6e0da" stroke-width="0.6"/><polygon points="869.53,33.33 869.70,31.49 879.06,26.09 878.89,27.93" fill="#e1dbd5" stroke="#e1dbd5" stroke-width="0.6"/><polygon points="869.70,31.49 869.70,31.50 879.06,26.10 879.06,26.09" fill="#bdb7b2" stroke="#bdb7b2" stroke-width="0.6"/><polygon points="869.70,31.50 871.70,30.82 873.77,30.28 875.89,29.89 878.08,29.64 880.31,29.54 882.59,29.59 884.92,29.78 887.28,30.12 889.68,30.60 892.10,31.22 894.55,31.99 897.02,32.91 899.51,33.96 902.00,35.14 904.50,36.47 907.00,37.92 909.49,39.51 911.98,41.22 914.45,43.06 916.90,45.01 919.32,47.08 921.72,49.27 924.08,51.56 926.41,53.95 928.69,56.44 930.92,59.03 933.11,61.70 935.23,64.46 937.30,67.29 939.30,70.19 939.30,70.19 939.47,72.22 939.90,74.33 940.59,76.48 941.51,78.59 942.64,80.61 943.95,82.49 945.40,84.17 946.95,85.61 946.95,169.40 945.40,169.11 943.95,169.18 942.64,169.60 941.51,170.37 940.59,171.46 939.90,172.84 939.47,174.47 939.30,176.31 939.30,176.30 937.30,176.98 935.23,177.52 933.11,177.91 930.92,178.16 928.69,178.26 926.41,178.21 924.08,178.02 921.72,177.68 919.32,177.20 916.90,176.58 914.45,175.81 911.98,174.89 909.49,173.84 907.00,172.66 904.50,171.33 902.00,169.88 899.51,168.29 897.02,166.58 894.55,164.74 892.10,162.79 889.68,160.72 887.28,158.53 884.92,156.24 882.59,153.85 880.31,151.36 878.08,148.77 875.89,146.10 873.77,143.34 871.70,140.51 869.70,137.61 869.70,137.61 869.53,135.58 869.10,133.47 868.41,131.32 867.49,129.21 866.36,127.19 865.05,125.31 863.60,123.63 862.05,122.19 862.05,38.40 863.60,38.69 865.05,38.62 866.36,38.20 867.49,37.43 868.41,36.34 869.10,34.96 869.53,33.33 869.70,31.49" fill="#615c57" stroke="#2a2826" stroke-width="0.7"/><polygon points="851.17,89.09 851.32,84.98 851.78,81.08 852.54,77.40 853.59,73.98 854.94,70.85 856.56,68.03 858.44,65.54 860.58,63.39 862.95,61.62 876.05,54.06 878.64,52.66 881.43,51.65 884.39,51.04 887.50,50.84 890.74,51.03 894.09,51.63 897.51,52.63 900.99,54.02 904.50,55.78 908.01,57.91 911.49,60.40 914.91,63.21 918.26,66.33 921.50,69.74 924.61,73.41 927.57,77.31 930.36,81.42 932.95,85.69 935.32,90.11 937.45,94.62 939.34,99.21 940.96,103.84 942.30,108.46 943.36,113.05 944.12,117.57 944.58,121.99 944.73,126.27 944.58,130.38 944.12,134.28 943.36,137.96 942.30,141.38 940.96,144.51 939.34,147.33 937.45,149.82 935.32,151.97 932.95,153.74 919.84,161.30 917.25,162.70 914.47,163.71 911.51,164.32 908.40,164.52 905.16,164.33 901.81,163.73 898.38,162.73 894.90,161.34 891.40,159.58 887.89,157.45 884.41,154.96 880.98,152.15 877.64,149.03 874.39,145.62 871.28,141.95 868.32,138.05 865.54,133.94 862.95,129.67 860.58,125.25 858.44,120.74 856.56,116.15 854.94,111.52 853.59,106.90 852.54,102.31 851.78,97.79 851.32,93.37" fill="#d9d3cd" stroke="none" stroke-width="0.8"/><polygon points="851.17,89.09 851.32,84.98 851.78,81.08 852.54,77.40 853.59,73.98 854.94,70.85 856.56,68.03 858.44,65.54 860.58,63.39 862.95,61.62 876.05,54.06 878.64,52.66 881.43,51.65 884.39,51.04 887.50,50.84 890.74,51.03 894.09,51.63 897.51,52.63 900.99,54.02 904.50,55.78 908.01,57.91 911.49,60.40 914.91,63.21 918.26,66.33 921.50,69.74 924.61,73.41 927.57,77.31 930.36,81.42 932.95,85.69 935.32,90.11 937.45,94.62 939.34,99.21 940.96,103.84 942.30,108.46 943.36,113.05 944.12,117.57 944.58,121.99 944.73,126.27 944.58,130.38 944.12,134.28 943.36,137.96 942.30,141.38 940.96,144.51 939.34,147.33 937.45,149.82 935.32,151.97 932.95,153.74 919.84,161.30 917.25,162.70 914.47,163.71 911.51,164.32 908.40,164.52 905.16,164.33 901.81,163.73 898.38,162.73 894.90,161.34 891.40,159.58 887.89,157.45 884.41,154.96 880.98,152.15 877.64,149.03 874.39,145.62 871.28,141.95 868.32,138.05 865.54,133.94 862.95,129.67 860.58,125.25 858.44,120.74 856.56,116.15 854.94,111.52 853.59,106.90 852.54,102.31 851.78,97.79 851.32,93.37" fill="url(#gbody)" stroke="none" stroke-width="0.8"/><polygon points="843.76,94.52 843.91,90.51 844.36,86.71 845.10,83.12 846.13,79.79 847.44,76.74 849.02,73.99 850.85,71.56 852.94,69.47 855.25,67.74 863.67,62.88 866.19,61.52 868.91,60.54 871.79,59.95 874.83,59.74 877.99,59.93 881.25,60.52 884.59,61.49 887.98,62.84 891.40,64.56 894.81,66.64 898.20,69.06 901.54,71.80 904.81,74.85 907.97,78.17 911.00,81.75 913.88,85.55 916.60,89.55 919.12,93.71 921.43,98.02 923.51,102.42 925.35,106.89 926.93,111.40 928.24,115.91 929.27,120.38 930.01,124.79 930.45,129.09 930.60,133.26 930.45,137.27 930.01,141.07 929.27,144.66 928.24,147.99 926.93,151.04 925.35,153.79 923.51,156.22 921.43,158.31 919.12,160.04 910.70,164.90 908.17,166.26 905.46,167.24 902.58,167.83 899.54,168.04 896.38,167.85 893.12,167.26 889.78,166.29 886.39,164.94 882.97,163.22 879.55,161.14 876.16,158.72 872.82,155.98 869.56,152.93 866.40,149.61 863.37,146.03 860.48,142.23 857.77,138.23 855.25,134.07 852.94,129.76 850.85,125.36 849.02,120.89 847.44,116.38 846.13,111.87 845.10,107.40 844.36,102.99 843.91,98.69" fill="#5f5a55" stroke="none" stroke-width="0.8"/><polyline points="856.74,69.54 858.77,66.88 861.10,64.64 863.70,62.84 866.56,61.49 869.63,60.60 872.89,60.18 876.32,60.24 879.89,60.78 883.55,61.78 887.28,63.25 891.04,65.16 894.79,67.50 898.51,70.26 902.16,73.39 905.70,76.88 909.10,80.69 912.33,84.79 915.37,89.14 918.18,93.70 920.73,98.42 923.01,103.27 924.99,108.20 926.65,113.16 927.98,118.11 928.97,123.00 929.61,127.79 929.89,132.43 929.81,136.88 929.36,141.11 928.57,145.06 927.42,148.71 925.93,152.02 924.12,154.96 922.01,157.50 919.60,159.62 916.93,161.30 914.02,162.53 910.89,163.29 907.57,163.58 904.10,163.39" fill="none" stroke="#2e2a27" stroke-width="0.9"/><polyline points="855.57,70.21 857.60,67.56 859.93,65.32 862.53,63.51 865.39,62.16 868.46,61.27 871.72,60.86 875.15,60.92 878.72,61.45 882.38,62.45 886.11,63.92 889.87,65.83 893.62,68.18 897.34,70.93 900.99,74.07 904.53,77.56 907.93,81.37 911.16,85.47 914.20,89.81 917.01,94.37 919.56,99.10 921.84,103.94 923.82,108.87 925.48,113.83 926.81,118.78 927.80,123.67 928.44,128.46 928.72,133.11 928.64,137.56 928.19,141.78 927.40,145.74 926.25,149.38 924.76,152.69 922.95,155.63 920.84,158.17 918.43,160.30 915.76,161.98 912.85,163.21 909.72,163.97 906.40,164.25 902.93,164.07" fill="none" stroke="#2e2a27" stroke-width="0.9"/><polyline points="854.40,70.89 856.43,68.23 858.76,65.99 861.36,64.19 864.22,62.84 867.29,61.95 870.55,61.53 873.98,61.59 877.55,62.13 881.21,63.13 884.94,64.60 888.70,66.51 892.45,68.85 896.17,71.61 899.82,74.74 903.36,78.23 906.76,82.04 909.99,86.14 913.03,90.49 915.84,95.05 918.39,99.77 920.67,104.62 922.65,109.55 924.31,114.51 925.64,119.46 926.63,124.35 927.27,129.14 927.55,133.78 927.47,138.23 927.02,142.46 926.23,146.41 925.08,150.06 923.59,153.37 921.78,156.31 919.67,158.85 917.26,160.97 914.59,162.65 911.68,163.88 908.55,164.64 905.23,164.93 901.76,164.74" fill="none" stroke="#2e2a27" stroke-width="0.9"/><polyline points="853.23,71.56 855.26,68.91 857.59,66.67 860.19,64.86 863.05,63.51 866.12,62.62 869.38,62.21 872.81,62.27 876.38,62.80 880.04,63.80 883.77,65.27 887.53,67.18 891.28,69.53 895.00,72.28 898.65,75.42 902.19,78.91 905.59,82.72 908.82,86.82 911.86,91.16 914.67,95.72 917.22,100.45 919.50,105.29 921.48,110.22 923.14,115.18 924.47,120.13 925.46,125.02 926.10,129.81 926.38,134.46 926.30,138.91 925.85,143.13 925.06,147.09 923.91,150.73 922.42,154.04 920.61,156.98 918.50,159.52 916.09,161.65 913.42,163.33 910.51,164.56 907.38,165.32 904.06,165.60 900.59,165.42" fill="none" stroke="#2e2a27" stroke-width="0.9"/><polyline points="852.06,72.24 854.09,69.58 856.42,67.34 859.02,65.54 861.88,64.19 864.95,63.30 868.21,62.88 871.64,62.94 875.21,63.48 878.87,64.48 882.60,65.95 886.36,67.86 890.11,70.20 893.83,72.96 897.48,76.09 901.02,79.58 904.42,83.39 907.65,87.49 910.69,91.84 913.50,96.40 916.05,101.12 918.33,105.97 920.31,110.90 921.97,115.86 923.30,120.81 924.29,125.70 924.93,130.49 925.21,135.13 925.13,139.58 924.68,143.81 923.89,147.76 922.74,151.41 921.25,154.72 919.44,157.66 917.33,160.20 914.92,162.32 912.25,164.00 909.34,165.23 906.21,165.99 902.89,166.28 899.42,166.09" fill="none" stroke="#2e2a27" stroke-width="0.9"/><polyline points="850.89,72.91 852.92,70.26 855.25,68.02 857.85,66.21 860.71,64.86 863.78,63.97 867.04,63.56 870.47,63.62 874.04,64.15 877.70,65.15 881.43,66.62 885.19,68.53 888.94,70.88 892.66,73.63 896.31,76.77 899.85,80.26 903.25,84.07 906.48,88.17 909.52,92.51 912.33,97.07 914.88,101.80 917.16,106.64 919.14,111.57 920.80,116.53 922.13,121.48 923.12,126.37 923.76,131.16 924.04,135.81 923.96,140.26 923.51,144.48 922.72,148.44 921.57,152.08 920.08,155.39 918.27,158.33 916.16,160.87 913.75,163.00 911.08,164.68 908.17,165.91 905.04,166.67 901.72,166.95 898.25,166.77" fill="none" stroke="#2e2a27" stroke-width="0.9"/><polyline points="849.72,73.59 851.75,70.93 854.08,68.69 856.68,66.89 859.54,65.54 862.61,64.65 865.87,64.23 869.30,64.29 872.87,64.83 876.53,65.83 880.26,67.30 884.02,69.21 887.77,71.55 891.49,74.31 895.14,77.44 898.68,80.93 902.08,84.74 905.31,88.84 908.35,93.19 911.16,97.75 913.71,102.47 915.99,107.32 917.97,112.25 919.63,117.21 920.96,122.16 921.95,127.05 922.59,131.84 922.87,136.48 922.79,140.93 922.34,145.16 921.55,149.11 920.40,152.76 918.91,156.07 917.10,159.01 914.99,161.55 912.58,163.67 909.91,165.35 907.00,166.58 903.87,167.34 900.55,167.63 897.08,167.44" fill="none" stroke="#2e2a27" stroke-width="0.9"/><polyline points="870.53,60.67 872.94,60.48 875.44,60.54 878.02,60.85 880.65,61.41 883.32,62.22 886.03,63.27 888.76,64.56 891.50,66.08 894.23,67.83 896.94,69.79 899.62,71.96 902.25,74.32 904.82,76.87 907.32,79.59 909.74,82.48 912.06,85.50 914.27,88.66 916.37,91.93 918.34,95.29 920.17,98.74 921.85,102.26 923.38,105.83 924.75,109.42 925.95,113.03 926.98,116.64 927.82,120.22 928.48,123.76 928.96,127.25 929.24,130.67 929.34,133.99 929.24,137.21 928.96,140.30 928.48,143.26 927.82,146.07 926.98,148.72 925.95,151.18 924.75,153.46 923.38,155.53 921.85,157.39 920.17,159.03" fill="none" stroke="#9a948e" stroke-width="0.6"/><polyline points="868.19,62.02 870.60,61.83 873.10,61.89 875.68,62.20 878.31,62.76 880.98,63.57 883.69,64.62 886.42,65.91 889.16,67.43 891.89,69.18 894.60,71.14 897.28,73.31 899.91,75.67 902.48,78.22 904.98,80.94 907.40,83.83 909.72,86.85 911.93,90.01 914.03,93.28 916.00,96.64 917.83,100.09 919.51,103.61 921.04,107.18 922.41,110.77 923.61,114.38 924.64,117.99 925.48,121.57 926.14,125.11 926.62,128.60 926.90,132.02 927.00,135.34 926.90,138.56 926.62,141.65 926.14,144.61 925.48,147.42 924.64,150.07 923.61,152.53 922.41,154.81 921.04,156.88 919.51,158.74 917.83,160.38" fill="none" stroke="#9a948e" stroke-width="0.6"/><polyline points="865.85,63.37 868.26,63.18 870.76,63.24 873.34,63.55 875.97,64.11 878.64,64.92 881.35,65.97 884.08,67.26 886.82,68.78 889.55,70.53 892.26,72.49 894.94,74.66 897.57,77.02 900.14,79.57 902.64,82.29 905.06,85.18 907.38,88.20 909.59,91.36 911.69,94.63 913.66,97.99 915.49,101.44 917.17,104.96 918.70,108.53 920.07,112.12 921.27,115.73 922.30,119.34 923.14,122.92 923.80,126.46 924.28,129.95 924.56,133.37 924.66,136.69 924.56,139.91 924.28,143.00 923.80,145.96 923.14,148.77 922.30,151.42 921.27,153.88 920.07,156.16 918.70,158.23 917.17,160.09 915.49,161.73" fill="none" stroke="#9a948e" stroke-width="0.6"/><polyline points="856.32,68.16 858.31,65.56 860.57,63.34 863.09,61.52 865.85,60.12 868.81,59.16 871.97,58.63 875.28,58.55 878.73,58.92 882.28,59.73 885.91,60.97 889.58,62.64 893.27,64.71 896.93,67.18 900.55,70.03 904.09,73.22 907.52,76.73 910.82,80.54 913.95,84.61 916.89,88.90 919.61,93.39 922.09,98.02 924.32,102.77 926.26,107.60 927.91,112.46 929.26,117.31 930.28,122.11 930.97,126.83 931.34,131.41 931.36,135.84 931.05,140.05 930.40,144.03 929.42,147.74 928.12,151.14 926.52,154.21 924.61,156.93 922.43,159.26 919.98,161.19 917.29,162.71 914.38,163.80 911.28,164.45" fill="none" stroke="#3a3632" stroke-width="1.0"/><polygon points="840.71,97.59 840.86,93.71 841.29,90.01 842.01,86.54 843.01,83.30 844.28,80.34 845.81,77.67 847.59,75.32 849.61,73.29 851.86,71.61 856.07,69.18 858.52,67.86 861.15,66.91 863.95,66.33 866.89,66.13 869.96,66.32 873.12,66.89 876.37,67.83 879.66,69.14 882.97,70.81 886.29,72.83 889.58,75.18 892.82,77.84 895.99,80.79 899.05,84.01 902.00,87.49 904.80,91.17 907.43,95.06 909.88,99.10 912.12,103.27 914.14,107.55 915.92,111.89 917.46,116.26 918.73,120.63 919.72,124.98 920.44,129.25 920.88,133.43 921.02,137.48 920.88,141.36 920.44,145.06 919.72,148.53 918.73,151.77 917.46,154.73 915.92,157.40 914.14,159.75 912.12,161.78 909.88,163.46 905.66,165.89 903.22,167.21 900.58,168.16 897.78,168.74 894.84,168.94 891.77,168.75 888.61,168.18 885.37,167.24 882.08,165.93 878.76,164.26 875.44,162.24 872.15,159.89 868.91,157.23 865.75,154.28 862.68,151.06 859.74,147.58 856.94,143.90 854.30,140.01 851.86,135.97 849.61,131.80 847.59,127.52 845.81,123.18 844.28,118.81 843.01,114.44 842.01,110.09 841.29,105.82 840.86,101.64" fill="#f6f4f1" stroke="none" stroke-width="0.8"/><polygon points="838.41,99.71 838.55,95.89 838.98,92.27 839.69,88.85 840.67,85.68 841.91,82.77 843.42,80.15 845.17,77.84 847.15,75.85 849.35,74.20 852.35,72.47 854.75,71.17 857.34,70.24 860.08,69.67 862.97,69.48 865.98,69.66 869.09,70.22 872.27,71.14 875.50,72.43 878.76,74.07 882.02,76.05 885.25,78.36 888.43,80.97 891.54,83.87 894.55,87.04 897.44,90.44 900.18,94.06 902.77,97.88 905.17,101.84 907.37,105.94 909.36,110.14 911.11,114.40 912.61,118.69 913.86,122.99 914.84,127.25 915.54,131.45 915.97,135.55 916.11,139.52 915.97,143.33 915.54,146.96 914.84,150.37 913.86,153.55 912.61,156.45 911.11,159.08 909.36,161.39 907.37,163.38 905.17,165.03 902.18,166.76 899.77,168.05 897.19,168.99 894.44,169.55 891.55,169.75 888.54,169.56 885.43,169.01 882.25,168.08 879.02,166.80 875.76,165.16 872.51,163.18 869.28,160.87 866.10,158.26 862.99,155.36 859.98,152.19 857.09,148.79 854.34,145.16 851.76,141.35 849.35,137.38 847.15,133.29 845.17,129.09 843.42,124.83 841.91,120.54 840.67,116.24 839.69,111.98 838.98,107.78 838.55,103.68" fill="#77706a" stroke="none" stroke-width="0.8"/><circle r="80.5" fill="#7a736d" stroke="#3a3632" stroke-width="0.8" vector-effect="non-scaling-stroke" transform="matrix(0.464 0.258 0.0 0.555 875.76 120.48)" /><circle r="15" fill="#ece6e0" stroke="none" stroke-width="0.8" vector-effect="non-scaling-stroke" transform="matrix(0.464 0.258 0.0 0.555 854.51 86.24)" /><circle r="11" fill="#5a5652" stroke="#222" stroke-width="0.6" vector-effect="non-scaling-stroke" transform="matrix(0.464 0.258 0.0 0.555 855.91 88.68)" /><circle r="4" fill="#aaa49e" stroke="none" stroke-width="0.8" vector-effect="non-scaling-stroke" transform="matrix(0.464 0.258 0.0 0.555 855.91 88.68)" /><circle r="15" fill="#ece6e0" stroke="none" stroke-width="0.8" vector-effect="non-scaling-stroke" transform="matrix(0.464 0.258 0.0 0.555 901.93 124.65)" /><circle r="11" fill="#5a5652" stroke="#222" stroke-width="0.6" vector-effect="non-scaling-stroke" transform="matrix(0.464 0.258 0.0 0.555 903.33 127.09)" /><circle r="4" fill="#aaa49e" stroke="none" stroke-width="0.8" vector-effect="non-scaling-stroke" transform="matrix(0.464 0.258 0.0 0.555 903.33 127.09)" /><circle r="15" fill="#ece6e0" stroke="none" stroke-width="0.8" vector-effect="non-scaling-stroke" transform="matrix(0.464 0.258 0.0 0.555 869.32 150.41)" /><circle r="11" fill="#5a5652" stroke="#222" stroke-width="0.6" vector-effect="non-scaling-stroke" transform="matrix(0.464 0.258 0.0 0.555 870.71 152.85)" /><circle r="4" fill="#aaa49e" stroke="none" stroke-width="0.8" vector-effect="non-scaling-stroke" transform="matrix(0.464 0.258 0.0 0.555 870.71 152.85)" /><circle r="15.3" fill="#57534f" stroke="#2e2b28" stroke-width="0.7" vector-effect="non-scaling-stroke" transform="matrix(0.464 0.258 0.0 0.555 866.44 81.05)" /><circle r="2.5" fill="#d8d2cc" stroke="none" stroke-width="0.8" vector-effect="non-scaling-stroke" transform="matrix(0.464 0.258 0.0 0.555 866.44 81.05)" /><circle r="15.3" fill="#57534f" stroke="#2e2b28" stroke-width="0.7" vector-effect="non-scaling-stroke" transform="matrix(0.464 0.258 0.0 0.555 904.86 144.31)" /><circle r="2.5" fill="#d8d2cc" stroke="none" stroke-width="0.8" vector-effect="non-scaling-stroke" transform="matrix(0.464 0.258 0.0 0.555 904.86 144.31)" /><circle r="15.3" fill="#57534f" stroke="#2e2b28" stroke-width="0.7" vector-effect="non-scaling-stroke" transform="matrix(0.464 0.258 0.0 0.555 855.44 136.04)" /><circle r="2.5" fill="#d8d2cc" stroke="none" stroke-width="0.8" vector-effect="non-scaling-stroke" transform="matrix(0.464 0.258 0.0 0.555 855.44 136.04)" /><circle r="4.5" fill="#f0ebe6" stroke="none" stroke-width="0.8" vector-effect="non-scaling-stroke" transform="matrix(0.464 0.258 0.0 0.555 850.85 106.73)" /><circle r="4" fill="#f0ebe6" stroke="none" stroke-width="0.8" vector-effect="non-scaling-stroke" transform="matrix(0.464 0.258 0.0 0.555 881.05 153.22)" /><polygon points="851.58,121.13 851.62,119.93 851.76,118.79 851.98,117.72 852.28,116.72 852.68,115.81 853.15,114.99 853.70,114.26 854.32,113.63 855.02,113.12 867.46,105.93 868.22,105.53 869.03,105.23 869.90,105.05 870.80,104.99 871.75,105.05 872.73,105.23 873.73,105.52 874.74,105.92 875.76,106.44 876.79,107.06 877.80,107.78 878.80,108.60 879.78,109.52 880.73,110.51 881.63,111.58 882.50,112.72 883.31,113.92 884.07,115.16 884.76,116.45 885.38,117.77 885.93,119.11 886.40,120.46 886.80,121.81 887.10,123.15 887.33,124.47 887.46,125.76 887.50,127.01 887.46,128.20 887.33,129.34 887.10,130.42 886.80,131.41 886.40,132.33 885.93,133.15 885.38,133.88 884.76,134.50 884.07,135.02 871.62,142.20 870.86,142.61 870.05,142.91 869.19,143.08 868.28,143.14 867.33,143.09 866.35,142.91 865.35,142.62 864.34,142.22 863.32,141.70 862.29,141.08 861.28,140.35 860.28,139.53 859.30,138.62 858.35,137.63 857.45,136.56 856.58,135.42 855.77,134.22 855.02,132.97 854.32,131.69 853.70,130.37 853.15,129.03 852.68,127.68 852.28,126.33 851.98,124.99 851.76,123.67 851.62,122.38" fill="#dedede" stroke="#333" stroke-width="0.7"/><circle r="25.3" fill="#cfcfcf" stroke="none" stroke-width="0.8" vector-effect="non-scaling-stroke" transform="matrix(0.464 0.258 0.0 0.555 863.32 127.66)" /><polygon points="838.60,129.83 838.64,128.74 838.77,127.70 838.97,126.72 839.25,125.82 839.60,124.99 840.03,124.24 840.53,123.58 841.10,123.01 841.73,122.54 855.77,114.44 856.46,114.07 857.19,113.80 857.98,113.64 858.81,113.58 859.67,113.64 860.55,113.79 861.46,114.06 862.39,114.43 863.32,114.90 864.25,115.46 865.17,116.12 866.08,116.87 866.97,117.69 867.83,118.60 868.65,119.57 869.44,120.61 870.18,121.70 870.86,122.83 871.49,124.00 872.06,125.20 872.56,126.42 872.99,127.64 873.34,128.87 873.62,130.09 873.83,131.29 873.95,132.46 873.99,133.59 873.95,134.68 873.83,135.72 873.62,136.70 873.34,137.60 872.99,138.43 872.56,139.18 872.06,139.84 871.49,140.41 870.86,140.88 856.82,148.98 856.14,149.35 855.40,149.62 854.61,149.78 853.79,149.84 852.93,149.78 852.04,149.63 851.13,149.36 850.21,148.99 849.28,148.53 848.35,147.96 847.42,147.30 846.51,146.55 845.63,145.73 844.77,144.82 843.94,143.85 843.15,142.81 842.42,141.72 841.73,140.59 841.10,139.42 840.53,138.22 840.03,137.00 839.60,135.78 839.25,134.55 838.97,133.33 838.77,132.13 838.64,130.96" fill="#c4c4c4" stroke="#2b2b2b" stroke-width="0.8"/><polyline points="866.50,117.96 867.34,118.85 868.14,119.79 868.91,120.80 869.64,121.85 870.31,122.96 870.93,124.09 871.50,125.26 872.00,126.44 872.43,127.64 872.79,128.83 873.09,130.02 873.31,131.20 873.45,132.35 873.52,133.47 873.50,134.55 873.42,135.58 873.25,136.56 873.01,137.47 872.70,138.32 872.31,139.09 871.86,139.78 871.34,140.38 870.76,140.89 870.13,141.31 869.44,141.64 868.70,141.86 867.92,141.98 867.10,142.00 866.26,141.92 865.38,141.74 864.49,141.46 863.59,141.08 862.69,140.60 861.78,140.04 860.88,139.38 860.00,138.64 859.13,137.83 858.30,136.94 857.49,135.99 856.73,134.98" fill="none" stroke="#555" stroke-width="0.9"/><polyline points="865.09,118.77 865.93,119.66 866.74,120.60 867.51,121.61 868.23,122.66 868.91,123.77 869.53,124.90 870.09,126.07 870.59,127.25 871.03,128.45 871.39,129.64 871.68,130.83 871.90,132.01 872.04,133.16 872.11,134.28 872.10,135.36 872.01,136.39 871.85,137.37 871.61,138.28 871.29,139.13 870.91,139.90 870.46,140.59 869.94,141.19 869.36,141.70 868.72,142.12 868.03,142.45 867.30,142.67 866.52,142.79 865.70,142.81 864.85,142.73 863.98,142.55 863.09,142.27 862.19,141.89 861.28,141.41 860.37,140.85 859.48,140.19 858.59,139.45 857.73,138.64 856.89,137.75 856.09,136.80 855.32,135.79" fill="none" stroke="#555" stroke-width="0.9"/><polyline points="863.69,119.58 864.53,120.47 865.34,121.41 866.10,122.42 866.83,123.47 867.50,124.58 868.12,125.71 868.69,126.88 869.19,128.06 869.62,129.26 869.99,130.45 870.28,131.64 870.50,132.82 870.64,133.97 870.71,135.09 870.70,136.17 870.61,137.20 870.44,138.18 870.20,139.09 869.89,139.94 869.51,140.71 869.05,141.40 868.53,142.00 867.96,142.51 867.32,142.93 866.63,143.26 865.89,143.48 865.11,143.60 864.30,143.62 863.45,143.54 862.58,143.36 861.69,143.08 860.78,142.70 859.88,142.22 858.97,141.66 858.07,141.00 857.19,140.26 856.32,139.45 855.49,138.56 854.68,137.61 853.92,136.60" fill="none" stroke="#555" stroke-width="0.9"/><polyline points="862.29,120.39 863.13,121.28 863.93,122.22 864.70,123.23 865.42,124.28 866.10,125.39 866.72,126.52 867.28,127.69 867.78,128.87 868.22,130.07 868.58,131.26 868.88,132.45 869.09,133.63 869.24,134.78 869.30,135.90 869.29,136.98 869.20,138.01 869.04,138.99 868.80,139.90 868.49,140.75 868.10,141.52 867.65,142.21 867.13,142.81 866.55,143.32 865.91,143.74 865.22,144.07 864.49,144.29 863.71,144.41 862.89,144.43 862.04,144.35 861.17,144.17 860.28,143.89 859.38,143.51 858.47,143.03 857.57,142.47 856.67,141.81 855.78,141.07 854.92,140.26 854.08,139.37 853.28,138.42 852.51,137.41" fill="none" stroke="#555" stroke-width="0.9"/><polyline points="860.88,121.20 861.72,122.09 862.53,123.03 863.30,124.04 864.02,125.09 864.70,126.20 865.32,127.33 865.88,128.50 866.38,129.68 866.81,130.88 867.18,132.07 867.47,133.26 867.69,134.44 867.83,135.59 867.90,136.71 867.89,137.79 867.80,138.82 867.64,139.80 867.40,140.71 867.08,141.56 866.70,142.33 866.25,143.02 865.73,143.62 865.15,144.13 864.51,144.55 863.82,144.88 863.08,145.10 862.30,145.22 861.49,145.24 860.64,145.16 859.77,144.98 858.88,144.70 857.98,144.32 857.07,143.84 856.16,143.28 855.26,142.62 854.38,141.88 853.52,141.07 852.68,140.18 851.88,139.23 851.11,138.22" fill="none" stroke="#555" stroke-width="0.9"/><polyline points="859.48,122.01 860.32,122.90 861.12,123.84 861.89,124.85 862.62,125.90 863.29,127.01 863.91,128.14 864.48,129.31 864.98,130.49 865.41,131.69 865.77,132.88 866.07,134.07 866.29,135.25 866.43,136.40 866.50,137.52 866.48,138.60 866.40,139.63 866.23,140.61 865.99,141.52 865.68,142.37 865.29,143.14 864.84,143.83 864.32,144.43 863.74,144.94 863.11,145.36 862.42,145.69 861.68,145.91 860.90,146.03 860.08,146.05 859.24,145.97 858.36,145.79 857.47,145.51 856.57,145.13 855.67,144.65 854.76,144.09 853.86,143.43 852.98,142.69 852.11,141.88 851.28,140.99 850.47,140.04 849.71,139.03" fill="none" stroke="#555" stroke-width="0.9"/><polyline points="858.07,122.82 858.91,123.71 859.72,124.65 860.49,125.66 861.21,126.71 861.89,127.82 862.51,128.95 863.07,130.12 863.57,131.30 864.01,132.50 864.37,133.69 864.66,134.88 864.88,136.06 865.02,137.21 865.09,138.33 865.08,139.41 864.99,140.44 864.83,141.42 864.59,142.33 864.27,143.18 863.89,143.95 863.44,144.64 862.92,145.24 862.34,145.75 861.70,146.17 861.01,146.50 860.28,146.72 859.50,146.84 858.68,146.86 857.83,146.78 856.96,146.60 856.07,146.32 855.17,145.94 854.26,145.46 853.35,144.90 852.46,144.24 851.57,143.50 850.71,142.69 849.87,141.80 849.07,140.85 848.30,139.84" fill="none" stroke="#555" stroke-width="0.9"/><polyline points="856.67,123.63 857.51,124.52 858.32,125.46 859.08,126.47 859.81,127.52 860.48,128.63 861.10,129.76 861.67,130.93 862.17,132.11 862.60,133.31 862.97,134.50 863.26,135.69 863.48,136.87 863.62,138.02 863.69,139.14 863.68,140.22 863.59,141.25 863.42,142.23 863.18,143.14 862.87,143.99 862.49,144.76 862.03,145.45 861.51,146.05 860.94,146.56 860.30,146.98 859.61,147.31 858.87,147.53 858.09,147.65 857.28,147.67 856.43,147.59 855.56,147.41 854.67,147.13 853.76,146.75 852.86,146.27 851.95,145.71 851.05,145.05 850.17,144.31 849.30,143.50 848.47,142.61 847.66,141.66 846.90,140.65" fill="none" stroke="#555" stroke-width="0.9"/><polyline points="855.27,124.44 856.11,125.33 856.91,126.27 857.68,127.28 858.40,128.33 859.08,129.44 859.70,130.57 860.26,131.74 860.76,132.92 861.20,134.12 861.56,135.31 861.86,136.50 862.07,137.68 862.22,138.83 862.28,139.95 862.27,141.03 862.18,142.06 862.02,143.04 861.78,143.95 861.47,144.80 861.08,145.57 860.63,146.26 860.11,146.86 859.53,147.37 858.89,147.79 858.20,148.12 857.47,148.34 856.69,148.46 855.87,148.48 855.02,148.40 854.15,148.22 853.26,147.94 852.36,147.56 851.45,147.08 850.55,146.52 849.65,145.86 848.76,145.12 847.90,144.31 847.06,143.42 846.26,142.47 845.49,141.46" fill="none" stroke="#555" stroke-width="0.9"/><polyline points="853.86,125.25 854.70,126.14 855.51,127.08 856.28,128.09 857.00,129.14 857.68,130.25 858.30,131.38 858.86,132.55 859.36,133.73 859.79,134.93 860.16,136.12 860.45,137.31 860.67,138.49 860.81,139.64 860.88,140.76 860.87,141.84 860.78,142.87 860.62,143.85 860.38,144.76 860.06,145.61 859.68,146.38 859.23,147.07 858.71,147.67 858.13,148.18 857.49,148.60 856.80,148.93 856.06,149.15 855.28,149.27 854.47,149.29 853.62,149.21 852.75,149.03 851.86,148.75 850.96,148.37 850.05,147.89 849.14,147.33 848.24,146.67 847.36,145.93 846.50,145.12 845.66,144.23 844.86,143.28 844.09,142.27" fill="none" stroke="#555" stroke-width="0.9"/><polygon points="836.97,130.77 837.01,129.68 837.13,128.64 837.33,127.67 837.61,126.76 837.97,125.93 838.40,125.18 838.90,124.52 839.46,123.95 840.09,123.48 841.73,122.54 842.42,122.17 843.15,121.90 843.94,121.74 844.77,121.68 845.63,121.74 846.51,121.89 847.42,122.16 848.35,122.53 849.28,123.00 850.21,123.56 851.13,124.22 852.04,124.97 852.93,125.79 853.79,126.70 854.61,127.67 855.40,128.71 856.14,129.80 856.82,130.93 857.45,132.10 858.02,133.30 858.52,134.52 858.95,135.74 859.30,136.97 859.58,138.19 859.79,139.39 859.91,140.56 859.95,141.69 859.91,142.78 859.79,143.82 859.58,144.80 859.30,145.70 858.95,146.53 858.52,147.28 858.02,147.94 857.45,148.51 856.82,148.98 855.18,149.93 854.50,150.30 853.76,150.57 852.97,150.73 852.15,150.78 851.29,150.73 850.40,150.57 849.49,150.31 848.57,149.94 847.64,149.47 846.71,148.90 845.78,148.25 844.88,147.50 843.99,146.67 843.13,145.77 842.30,144.79 841.52,143.76 840.78,142.67 840.09,141.54 839.46,140.36 838.90,139.17 838.40,137.95 837.97,136.72 837.61,135.49 837.33,134.28 837.13,133.08 837.01,131.91" fill="#3a3a3a" stroke="none" stroke-width="0.8"/><circle r="23" fill="#333" stroke="none" stroke-width="0.8" vector-effect="non-scaling-stroke" transform="matrix(0.464 0.258 0.0 0.555 847.64 136.71)" /><circle r="19" fill="#e8e8e8" stroke="none" stroke-width="0.8" vector-effect="non-scaling-stroke" transform="matrix(0.464 0.258 0.0 0.555 847.64 136.71)" /><circle r="10" fill="#c0c0c0" stroke="#333" stroke-width="0.7" vector-effect="non-scaling-stroke" transform="matrix(0.464 0.258 0.0 0.555 847.64 136.71)" /><circle r="4" fill="#fafafa" stroke="none" stroke-width="0.8" vector-effect="non-scaling-stroke" transform="matrix(0.464 0.258 0.0 0.555 847.64 136.71)" /></g><circle r="12.5" fill="#e4ded8" stroke="#2a2826" stroke-width="0.7" vector-effect="non-scaling-stroke" transform="matrix(0.464 0.258 0.0 0.555 879.68 38.87)" /><circle r="12.5" fill="#e4ded8" stroke="#2a2826" stroke-width="0.7" vector-effect="non-scaling-stroke" transform="matrix(0.464 0.258 0.0 0.555 929.32 66.48)" /><circle r="12.5" fill="#e4ded8" stroke="#2a2826" stroke-width="0.7" vector-effect="non-scaling-stroke" transform="matrix(0.464 0.258 0.0 0.555 929.32 168.93)" /><text x="0" y="0" font-size="9" font-weight="bold" fill="#111" text-anchor="middle" transform="translate(862 99) rotate(205) translate(0 3)" textLength="12" lengthAdjust="spacingAndGlyphs">Z01</text><text x="0" y="0" font-size="9" font-weight="bold" fill="#111" transform="translate(890 118) rotate(90)" textLength="14" lengthAdjust="spacingAndGlyphs">Z02</text><circle r="3" fill="#2b2b2b" stroke="none" stroke-width="0.8" vector-effect="non-scaling-stroke" transform="matrix(0.464 0.258 0.0 0.555 920.51 77.43)" /><circle r="6.5" fill="#c5bfb9" stroke="#222" stroke-width="0.9" vector-effect="non-scaling-stroke" transform="matrix(0.464 0.258 0.0 0.555 927.98 90.02)" /><circle r="3.5" fill="#8a847e" stroke="none" stroke-width="0.8" vector-effect="non-scaling-stroke" transform="matrix(0.464 0.258 0.0 0.555 927.98 90.02)" /><text x="0" y="0" font-size="10.5" fill="#1c1c1c" transform="translate(939 123) rotate(-66)" textLength="25" lengthAdjust="spacingAndGlyphs">LOCK</text><text x="0" y="0" font-size="12" font-weight="bold" fill="#1c1c1c" transform="translate(956.8 154.5) rotate(-89)" textLength="54" lengthAdjust="spacingAndGlyphs">THORLABS</text><polygon points="1098.13,79.19 1098.17,78.20 1098.28,77.25 1098.46,76.36 1098.72,75.53 1099.04,74.77 1099.44,74.09 1099.89,73.49 1100.41,72.97 1100.99,72.54 1116.90,63.36 1117.52,63.02 1118.20,62.78 1118.92,62.63 1119.67,62.58 1120.46,62.62 1121.27,62.77 1122.10,63.01 1122.94,63.35 1123.79,63.77 1124.64,64.29 1125.48,64.89 1126.31,65.57 1127.12,66.33 1127.91,67.16 1128.66,68.05 1129.38,68.99 1130.05,69.98 1130.68,71.02 1131.25,72.09 1131.77,73.18 1132.23,74.29 1132.62,75.41 1132.94,76.54 1133.20,77.65 1133.38,78.74 1133.49,79.81 1133.53,80.85 1133.49,81.84 1133.38,82.79 1133.20,83.68 1132.94,84.51 1132.62,85.27 1132.23,85.95 1131.77,86.55 1131.25,87.07 1130.68,87.50 1114.77,96.68 1114.14,97.02 1113.46,97.26 1112.75,97.41 1111.99,97.46 1111.21,97.42 1110.40,97.27 1109.57,97.03 1108.73,96.69 1107.88,96.27 1107.03,95.75 1106.18,95.15 1105.35,94.47 1104.54,93.71 1103.76,92.88 1103.00,91.99 1102.29,91.05 1101.61,90.06 1100.99,89.02 1100.41,87.95 1099.89,86.86 1099.44,85.75 1099.04,84.63 1098.72,83.50 1098.46,82.39 1098.28,81.30 1098.17,80.23" fill="#9a9da2" stroke="#333" stroke-width="0.7"/><polyline points="1115.39,64.33 1115.90,63.94 1116.46,63.62 1117.06,63.38 1117.69,63.21 1118.35,63.13 1119.04,63.12 1119.76,63.20 1120.49,63.35 1121.24,63.58 1122.00,63.89 1122.77,64.27 1123.53,64.72 1124.29,65.24 1125.04,65.83 1125.78,66.48 1126.50,67.19 1127.20,67.96 1127.87,68.77 1128.51,69.63 1129.12,70.52 1129.68,71.45 1130.21,72.41 1130.68,73.39 1131.12,74.39 1131.50,75.39 1131.82,76.40 1132.09,77.41 1132.31,78.41 1132.46,79.39 1132.56,80.35 1132.60,81.29 1132.57,82.19 1132.49,83.05 1132.35,83.87 1132.15,84.64 1131.89,85.36 1131.57,86.02 1131.20,86.62 1130.78,87.15 1130.32,87.61" fill="none" stroke="#3d3f44" stroke-width="0.8"/><polyline points="1113.98,65.14 1114.50,64.75 1115.06,64.43 1115.65,64.19 1116.28,64.02 1116.95,63.94 1117.64,63.93 1118.36,64.01 1119.09,64.16 1119.84,64.39 1120.60,64.70 1121.36,65.08 1122.13,65.53 1122.89,66.05 1123.64,66.64 1124.38,67.29 1125.10,68.00 1125.80,68.77 1126.47,69.58 1127.11,70.44 1127.71,71.33 1128.28,72.26 1128.80,73.22 1129.28,74.20 1129.71,75.20 1130.09,76.20 1130.42,77.21 1130.69,78.22 1130.90,79.22 1131.06,80.20 1131.15,81.16 1131.19,82.10 1131.17,83.00 1131.08,83.86 1130.94,84.68 1130.74,85.45 1130.48,86.17 1130.17,86.83 1129.80,87.43 1129.38,87.96 1128.91,88.42" fill="none" stroke="#3d3f44" stroke-width="0.8"/><polyline points="1112.58,65.95 1113.09,65.56 1113.65,65.24 1114.25,65.00 1114.88,64.83 1115.54,64.75 1116.24,64.74 1116.95,64.82 1117.69,64.97 1118.44,65.20 1119.19,65.51 1119.96,65.89 1120.72,66.34 1121.48,66.86 1122.24,67.45 1122.97,68.10 1123.69,68.81 1124.39,69.58 1125.06,70.39 1125.70,71.25 1126.31,72.14 1126.87,73.07 1127.40,74.03 1127.88,75.01 1128.31,76.01 1128.69,77.01 1129.01,78.02 1129.28,79.03 1129.50,80.03 1129.65,81.01 1129.75,81.97 1129.79,82.91 1129.76,83.81 1129.68,84.67 1129.54,85.49 1129.34,86.26 1129.08,86.98 1128.76,87.64 1128.40,88.24 1127.98,88.77 1127.51,89.23" fill="none" stroke="#3d3f44" stroke-width="0.8"/><polyline points="1111.18,66.76 1111.69,66.37 1112.25,66.05 1112.84,65.81 1113.48,65.64 1114.14,65.56 1114.83,65.55 1115.55,65.63 1116.28,65.78 1117.03,66.01 1117.79,66.32 1118.55,66.70 1119.32,67.15 1120.08,67.67 1120.83,68.26 1121.57,68.91 1122.29,69.62 1122.99,70.39 1123.66,71.20 1124.30,72.06 1124.90,72.95 1125.47,73.88 1125.99,74.84 1126.47,75.82 1126.90,76.82 1127.28,77.82 1127.61,78.83 1127.88,79.84 1128.09,80.84 1128.25,81.82 1128.35,82.78 1128.38,83.72 1128.36,84.62 1128.28,85.48 1128.13,86.30 1127.93,87.07 1127.67,87.79 1127.36,88.45 1126.99,89.05 1126.57,89.58 1126.10,90.04" fill="none" stroke="#3d3f44" stroke-width="0.8"/><polyline points="1109.77,67.57 1110.29,67.18 1110.84,66.86 1111.44,66.62 1112.07,66.45 1112.74,66.37 1113.43,66.36 1114.14,66.44 1114.88,66.59 1115.63,66.82 1116.39,67.13 1117.15,67.51 1117.92,67.96 1118.68,68.48 1119.43,69.07 1120.17,69.72 1120.89,70.43 1121.58,71.20 1122.25,72.01 1122.89,72.87 1123.50,73.76 1124.07,74.69 1124.59,75.65 1125.07,76.63 1125.50,77.63 1125.88,78.63 1126.21,79.64 1126.48,80.65 1126.69,81.65 1126.85,82.63 1126.94,83.59 1126.98,84.53 1126.96,85.43 1126.87,86.29 1126.73,87.11 1126.53,87.88 1126.27,88.60 1125.96,89.26 1125.59,89.86 1125.17,90.39 1124.70,90.85" fill="none" stroke="#3d3f44" stroke-width="0.8"/><polyline points="1108.37,68.38 1108.88,67.99 1109.44,67.67 1110.04,67.43 1110.67,67.26 1111.33,67.18 1112.02,67.17 1112.74,67.25 1113.47,67.40 1114.22,67.63 1114.98,67.94 1115.75,68.32 1116.51,68.77 1117.27,69.29 1118.02,69.88 1118.76,70.53 1119.48,71.24 1120.18,72.01 1120.85,72.82 1121.49,73.68 1122.10,74.57 1122.66,75.50 1123.19,76.46 1123.66,77.44 1124.10,78.44 1124.48,79.44 1124.80,80.45 1125.07,81.46 1125.29,82.46 1125.44,83.44 1125.54,84.40 1125.58,85.34 1125.55,86.24 1125.47,87.10 1125.33,87.92 1125.13,88.69 1124.87,89.41 1124.55,90.07 1124.18,90.67 1123.76,91.20 1123.30,91.66" fill="none" stroke="#3d3f44" stroke-width="0.8"/><polyline points="1106.96,69.19 1107.48,68.80 1108.04,68.48 1108.63,68.24 1109.26,68.07 1109.93,67.99 1110.62,67.98 1111.34,68.06 1112.07,68.21 1112.82,68.44 1113.58,68.75 1114.34,69.13 1115.11,69.58 1115.87,70.10 1116.62,70.69 1117.36,71.34 1118.08,72.05 1118.78,72.82 1119.45,73.63 1120.09,74.49 1120.69,75.38 1121.26,76.31 1121.78,77.27 1122.26,78.25 1122.69,79.25 1123.07,80.25 1123.40,81.26 1123.67,82.27 1123.88,83.27 1124.04,84.25 1124.13,85.21 1124.17,86.15 1124.15,87.05 1124.06,87.91 1123.92,88.73 1123.72,89.50 1123.46,90.22 1123.15,90.88 1122.78,91.48 1122.36,92.01 1121.89,92.47" fill="none" stroke="#3d3f44" stroke-width="0.8"/><polyline points="1105.56,70.00 1106.07,69.61 1106.63,69.29 1107.23,69.05 1107.86,68.88 1108.52,68.80 1109.22,68.79 1109.93,68.87 1110.67,69.02 1111.42,69.25 1112.17,69.56 1112.94,69.94 1113.70,70.39 1114.46,70.91 1115.22,71.50 1115.95,72.15 1116.67,72.86 1117.37,73.63 1118.04,74.44 1118.68,75.30 1119.29,76.19 1119.85,77.12 1120.38,78.08 1120.86,79.06 1121.29,80.06 1121.67,81.06 1121.99,82.07 1122.26,83.08 1122.48,84.08 1122.63,85.06 1122.73,86.02 1122.77,86.96 1122.74,87.86 1122.66,88.72 1122.52,89.54 1122.32,90.31 1122.06,91.03 1121.74,91.69 1121.38,92.29 1120.96,92.82 1120.49,93.28" fill="none" stroke="#3d3f44" stroke-width="0.8"/><polyline points="1104.16,70.81 1104.67,70.42 1105.23,70.10 1105.82,69.86 1106.46,69.69 1107.12,69.61 1107.81,69.60 1108.53,69.68 1109.26,69.83 1110.01,70.06 1110.77,70.37 1111.53,70.75 1112.30,71.20 1113.06,71.72 1113.81,72.31 1114.55,72.96 1115.27,73.67 1115.97,74.44 1116.64,75.25 1117.28,76.11 1117.88,77.00 1118.45,77.93 1118.97,78.89 1119.45,79.87 1119.88,80.87 1120.26,81.87 1120.59,82.88 1120.86,83.89 1121.07,84.89 1121.23,85.87 1121.33,86.83 1121.36,87.77 1121.34,88.67 1121.26,89.53 1121.11,90.35 1120.91,91.12 1120.65,91.84 1120.34,92.50 1119.97,93.10 1119.55,93.63 1119.08,94.09" fill="none" stroke="#3d3f44" stroke-width="0.8"/><polyline points="1102.75,71.62 1103.27,71.23 1103.82,70.91 1104.42,70.67 1105.05,70.50 1105.72,70.42 1106.41,70.41 1107.12,70.49 1107.86,70.64 1108.61,70.87 1109.37,71.18 1110.13,71.56 1110.90,72.01 1111.66,72.53 1112.41,73.12 1113.15,73.77 1113.87,74.48 1114.56,75.25 1115.23,76.06 1115.87,76.92 1116.48,77.81 1117.05,78.74 1117.57,79.70 1118.05,80.68 1118.48,81.68 1118.86,82.68 1119.19,83.69 1119.46,84.70 1119.67,85.70 1119.83,86.68 1119.92,87.64 1119.96,88.58 1119.94,89.48 1119.85,90.34 1119.71,91.16 1119.51,91.93 1119.25,92.65 1118.94,93.31 1118.57,93.91 1118.15,94.44 1117.68,94.90" fill="none" stroke="#3d3f44" stroke-width="0.8"/><polyline points="1101.35,72.43 1101.86,72.04 1102.42,71.72 1103.02,71.48 1103.65,71.31 1104.31,71.23 1105.00,71.22 1105.72,71.30 1106.45,71.45 1107.20,71.68 1107.96,71.99 1108.73,72.37 1109.49,72.82 1110.25,73.34 1111.00,73.93 1111.74,74.58 1112.46,75.29 1113.16,76.06 1113.83,76.87 1114.47,77.73 1115.08,78.62 1115.64,79.55 1116.17,80.51 1116.64,81.49 1117.08,82.49 1117.46,83.49 1117.78,84.50 1118.05,85.51 1118.27,86.51 1118.42,87.49 1118.52,88.45 1118.56,89.39 1118.53,90.29 1118.45,91.15 1118.31,91.97 1118.11,92.74 1117.85,93.46 1117.53,94.12 1117.16,94.72 1116.74,95.25 1116.28,95.71" fill="none" stroke="#3d3f44" stroke-width="0.8"/><polygon points="1084.44,84.83 1084.48,83.63 1084.62,82.49 1084.84,81.42 1085.14,80.42 1085.54,79.51 1086.01,78.69 1086.56,77.96 1087.18,77.33 1087.88,76.82 1099.58,70.07 1100.33,69.66 1101.14,69.36 1102.01,69.19 1102.91,69.13 1103.86,69.18 1104.84,69.36 1105.84,69.65 1106.85,70.05 1107.88,70.57 1108.90,71.19 1109.91,71.92 1110.91,72.74 1111.89,73.65 1112.84,74.64 1113.75,75.71 1114.61,76.85 1115.42,78.05 1116.18,79.30 1116.87,80.58 1117.49,81.90 1118.04,83.24 1118.52,84.59 1118.91,85.94 1119.22,87.28 1119.44,88.60 1119.57,89.89 1119.62,91.14 1119.57,92.34 1119.44,93.48 1119.22,94.55 1118.91,95.55 1118.52,96.46 1118.04,97.28 1117.49,98.01 1116.87,98.64 1116.18,99.15 1104.48,105.90 1103.72,106.31 1102.91,106.61 1102.05,106.78 1101.14,106.84 1100.19,106.79 1099.21,106.61 1098.21,106.32 1097.20,105.92 1096.18,105.40 1095.15,104.78 1094.14,104.05 1093.14,103.23 1092.16,102.32 1091.21,101.33 1090.31,100.26 1089.44,99.12 1088.63,97.92 1087.88,96.67 1087.18,95.39 1086.56,94.07 1086.01,92.73 1085.54,91.38 1085.14,90.03 1084.84,88.69 1084.62,87.37 1084.48,86.08" fill="#a8abb0" stroke="#333" stroke-width="0.7"/><polygon points="1054.14,73.29 1054.29,69.48 1054.71,65.85 1055.42,62.44 1056.40,59.26 1057.64,56.36 1059.15,53.73 1060.90,51.42 1062.88,49.43 1065.08,47.78 1069.76,45.08 1072.17,43.78 1074.75,42.85 1077.50,42.28 1080.39,42.09 1083.40,42.27 1086.51,42.83 1089.69,43.75 1092.92,45.04 1096.18,46.68 1099.43,48.66 1102.66,50.97 1105.84,53.58 1108.95,56.48 1111.96,59.65 1114.85,63.05 1117.60,66.67 1120.19,70.49 1122.59,74.45 1124.79,78.55 1126.77,82.75 1128.52,87.01 1130.03,91.30 1131.28,95.60 1132.26,99.86 1132.96,104.06 1133.39,108.16 1133.53,112.13 1133.39,115.94 1132.96,119.57 1132.26,122.98 1131.28,126.16 1130.03,129.06 1128.52,131.69 1126.77,134.00 1124.79,135.99 1122.59,137.64 1117.91,140.34 1115.51,141.64 1112.92,142.57 1110.17,143.14 1107.28,143.33 1104.27,143.15 1101.16,142.59 1097.98,141.67 1094.75,140.38 1091.50,138.74 1088.24,136.76 1085.01,134.45 1081.83,131.84 1078.72,128.94 1075.71,125.77 1072.82,122.37 1070.07,118.75 1067.49,114.93 1065.08,110.97 1062.88,106.87 1060.90,102.67 1059.15,98.41 1057.64,94.12 1056.40,89.82 1055.42,85.56 1054.71,81.36 1054.29,77.26" fill="#b9b3ad" stroke="none" stroke-width="0.8"/><polyline points="1083.40,42.27 1086.19,42.76 1089.05,43.54 1091.95,44.62 1094.87,45.98 1097.81,47.63 1100.73,49.55 1103.62,51.72 1106.47,54.14 1109.26,56.79 1111.96,59.65 1114.57,62.70 1117.06,65.93 1119.43,69.32 1121.65,72.85 1123.71,76.49 1125.61,80.22 1127.32,84.02 1128.84,87.86 1130.16,91.73 1131.28,95.60 1132.17,99.43 1132.84,103.22 1133.29,106.94 1133.51,110.56 1133.49,114.06 1133.25,117.42 1132.78,120.62 1132.08,123.64 1131.16,126.46 1130.03,129.06 1128.69,131.44 1127.14,133.56 1125.41,135.43 1123.49,137.02 1121.41,138.33 1119.17,139.35 1116.79,140.08 1114.28,140.50 1111.67,140.63 1108.95,140.45" fill="none" stroke="#e8e4e0" stroke-width="1.5"/><polygon points="1027.95,86.30 1028.10,82.29 1028.55,78.49 1029.29,74.90 1030.32,71.57 1031.63,68.52 1033.20,65.77 1035.04,63.34 1037.12,61.25 1039.44,59.52 1063.77,45.48 1066.29,44.12 1069.01,43.14 1071.89,42.55 1074.93,42.34 1078.09,42.53 1081.35,43.12 1084.69,44.09 1088.08,45.44 1091.50,47.16 1094.91,49.24 1098.30,51.66 1101.64,54.40 1104.91,57.45 1108.07,60.77 1111.10,64.35 1113.98,68.15 1116.70,72.15 1119.22,76.31 1121.53,80.62 1123.61,85.02 1125.45,89.49 1127.03,94.00 1128.34,98.51 1129.37,102.98 1130.11,107.39 1130.55,111.69 1130.70,115.86 1130.55,119.87 1130.11,123.67 1129.37,127.26 1128.34,130.59 1127.03,133.64 1125.45,136.39 1123.61,138.82 1121.53,140.91 1119.22,142.64 1094.88,156.68 1092.36,158.04 1089.65,159.02 1086.76,159.61 1083.73,159.82 1080.57,159.63 1077.31,159.04 1073.97,158.07 1070.58,156.72 1067.16,155.00 1063.74,152.92 1060.35,150.50 1057.01,147.76 1053.75,144.71 1050.59,141.39 1047.56,137.81 1044.67,134.01 1041.96,130.01 1039.44,125.85 1037.12,121.54 1035.04,117.14 1033.20,112.67 1031.63,108.16 1030.32,103.65 1029.29,99.18 1028.55,94.77 1028.10,90.47" fill="#3f3b37" stroke="none" stroke-width="0.8"/><polyline points="1058.43,53.87 1061.36,54.38 1064.36,55.20 1067.40,56.34 1070.47,57.77 1073.55,59.50 1076.62,61.51 1079.66,63.79 1082.65,66.33 1085.57,69.11 1088.41,72.11 1091.15,75.32 1093.76,78.71 1096.25,82.27 1098.58,85.97 1100.75,89.79 1102.74,93.71 1104.53,97.70 1106.13,101.73 1107.52,105.79 1108.68,109.85 1109.62,113.88 1110.33,117.85 1110.80,121.75 1111.02,125.55 1111.01,129.23 1110.76,132.75 1110.26,136.11 1109.53,139.28 1108.57,142.24 1107.37,144.98 1105.96,147.47 1104.34,149.70 1102.52,151.66 1100.51,153.33 1098.33,154.71 1095.98,155.78 1093.48,156.54 1090.85,156.99 1088.10,157.12 1085.25,156.93" fill="none" stroke="#77716b" stroke-width="0.8"/><polyline points="1060.30,52.79 1063.23,53.30 1066.23,54.12 1069.27,55.26 1072.34,56.69 1075.42,58.42 1078.49,60.43 1081.53,62.71 1084.52,65.25 1087.44,68.03 1090.28,71.03 1093.02,74.24 1095.64,77.63 1098.12,81.19 1100.45,84.89 1102.62,88.71 1104.61,92.63 1106.41,96.62 1108.00,100.65 1109.39,104.71 1110.56,108.77 1111.49,112.80 1112.20,116.77 1112.67,120.67 1112.90,124.47 1112.88,128.15 1112.63,131.67 1112.13,135.03 1111.40,138.20 1110.44,141.16 1109.25,143.90 1107.84,146.39 1106.22,148.62 1104.40,150.58 1102.39,152.25 1100.20,153.63 1097.85,154.70 1095.35,155.46 1092.72,155.91 1089.97,156.04 1087.12,155.85" fill="none" stroke="#77716b" stroke-width="0.8"/><polyline points="1062.17,51.71 1065.11,52.22 1068.10,53.04 1071.15,54.18 1074.22,55.61 1077.29,57.34 1080.36,59.35 1083.40,61.63 1086.39,64.17 1089.31,66.95 1092.15,69.95 1094.89,73.16 1097.51,76.55 1099.99,80.11 1102.32,83.81 1104.49,87.63 1106.48,91.55 1108.28,95.54 1109.88,99.57 1111.26,103.63 1112.43,107.69 1113.37,111.72 1114.07,115.69 1114.54,119.59 1114.77,123.39 1114.75,127.07 1114.50,130.59 1114.00,133.95 1113.27,137.12 1112.31,140.08 1111.12,142.82 1109.71,145.31 1108.09,147.54 1106.27,149.50 1104.26,151.17 1102.07,152.55 1099.72,153.62 1097.22,154.38 1094.59,154.83 1091.84,154.96 1088.99,154.77" fill="none" stroke="#77716b" stroke-width="0.8"/><polyline points="1064.05,50.63 1066.98,51.14 1069.97,51.96 1073.02,53.10 1076.09,54.53 1079.17,56.26 1082.23,58.27 1085.27,60.55 1088.26,63.09 1091.19,65.87 1094.03,68.87 1096.76,72.08 1099.38,75.47 1101.86,79.03 1104.20,82.73 1106.36,86.55 1108.35,90.47 1110.15,94.46 1111.75,98.49 1113.13,102.55 1114.30,106.61 1115.24,110.64 1115.94,114.61 1116.41,118.51 1116.64,122.31 1116.63,125.99 1116.37,129.51 1115.88,132.87 1115.15,136.04 1114.18,139.00 1112.99,141.74 1111.58,144.23 1109.96,146.46 1108.14,148.42 1106.13,150.09 1103.94,151.47 1101.59,152.54 1099.10,153.30 1096.46,153.75 1093.72,153.88 1090.87,153.69" fill="none" stroke="#77716b" stroke-width="0.8"/><polyline points="1065.92,49.55 1068.85,50.06 1071.85,50.88 1074.89,52.02 1077.96,53.45 1081.04,55.18 1084.11,57.19 1087.14,59.47 1090.14,62.01 1093.06,64.79 1095.90,67.79 1098.63,71.00 1101.25,74.39 1103.74,77.95 1106.07,81.65 1108.24,85.47 1110.22,89.39 1112.02,93.38 1113.62,97.41 1115.01,101.47 1116.17,105.53 1117.11,109.56 1117.82,113.53 1118.28,117.43 1118.51,121.23 1118.50,124.91 1118.24,128.43 1117.75,131.79 1117.02,134.96 1116.05,137.92 1114.86,140.66 1113.45,143.15 1111.83,145.38 1110.01,147.34 1108.00,149.01 1105.82,150.39 1103.47,151.46 1100.97,152.22 1098.34,152.67 1095.59,152.80 1092.74,152.61" fill="none" stroke="#77716b" stroke-width="0.8"/><polyline points="1067.79,48.47 1070.72,48.98 1073.72,49.80 1076.76,50.94 1079.83,52.37 1082.91,54.10 1085.98,56.11 1089.02,58.39 1092.01,60.93 1094.93,63.71 1097.77,66.71 1100.51,69.92 1103.12,73.31 1105.61,76.87 1107.94,80.57 1110.11,84.39 1112.10,88.31 1113.89,92.30 1115.49,96.33 1116.88,100.39 1118.04,104.45 1118.98,108.48 1119.69,112.45 1120.16,116.35 1120.38,120.15 1120.37,123.83 1120.12,127.35 1119.62,130.71 1118.89,133.88 1117.93,136.84 1116.73,139.58 1115.32,142.07 1113.70,144.30 1111.88,146.26 1109.87,147.93 1107.69,149.31 1105.34,150.38 1102.84,151.14 1100.21,151.59 1097.46,151.72 1094.61,151.53" fill="none" stroke="#77716b" stroke-width="0.8"/><polyline points="1069.66,47.39 1072.59,47.90 1075.59,48.72 1078.63,49.86 1081.70,51.29 1084.78,53.02 1087.85,55.03 1090.89,57.31 1093.88,59.85 1096.80,62.63 1099.64,65.63 1102.38,68.84 1105.00,72.23 1107.48,75.79 1109.81,79.49 1111.98,83.31 1113.97,87.23 1115.77,91.22 1117.36,95.25 1118.75,99.31 1119.92,103.37 1120.85,107.40 1121.56,111.37 1122.03,115.27 1122.26,119.07 1122.24,122.75 1121.99,126.27 1121.49,129.63 1120.76,132.80 1119.80,135.76 1118.61,138.50 1117.20,140.99 1115.58,143.22 1113.76,145.18 1111.75,146.85 1109.56,148.23 1107.21,149.30 1104.71,150.06 1102.08,150.51 1099.33,150.64 1096.48,150.45" fill="none" stroke="#77716b" stroke-width="0.8"/><polyline points="1071.53,46.31 1074.47,46.82 1077.46,47.64 1080.51,48.78 1083.58,50.21 1086.65,51.94 1089.72,53.95 1092.76,56.23 1095.75,58.77 1098.67,61.55 1101.51,64.55 1104.25,67.76 1106.87,71.15 1109.35,74.71 1111.68,78.41 1113.85,82.23 1115.84,86.15 1117.64,90.14 1119.24,94.17 1120.62,98.23 1121.79,102.29 1122.73,106.32 1123.43,110.29 1123.90,114.19 1124.13,117.99 1124.11,121.67 1123.86,125.19 1123.36,128.55 1122.63,131.72 1121.67,134.68 1120.48,137.42 1119.07,139.91 1117.45,142.14 1115.63,144.10 1113.62,145.77 1111.43,147.15 1109.08,148.22 1106.58,148.98 1103.95,149.43 1101.20,149.56 1098.35,149.37" fill="none" stroke="#77716b" stroke-width="0.8"/><polyline points="1073.41,45.23 1076.34,45.74 1079.33,46.56 1082.38,47.70 1085.45,49.13 1088.53,50.86 1091.59,52.87 1094.63,55.15 1097.62,57.69 1100.55,60.47 1103.39,63.47 1106.12,66.68 1108.74,70.07 1111.22,73.63 1113.56,77.33 1115.72,81.15 1117.71,85.07 1119.51,89.06 1121.11,93.09 1122.49,97.15 1123.66,101.21 1124.60,105.24 1125.30,109.21 1125.77,113.11 1126.00,116.91 1125.99,120.59 1125.73,124.11 1125.24,127.47 1124.51,130.64 1123.54,133.60 1122.35,136.34 1120.94,138.83 1119.32,141.06 1117.50,143.02 1115.49,144.69 1113.30,146.07 1110.95,147.14 1108.46,147.90 1105.82,148.35 1103.08,148.48 1100.23,148.29" fill="none" stroke="#77716b" stroke-width="0.8"/><polyline points="1075.28,44.15 1078.21,44.66 1081.21,45.48 1084.25,46.62 1087.32,48.05 1090.40,49.78 1093.47,51.79 1096.50,54.07 1099.50,56.61 1102.42,59.39 1105.26,62.39 1107.99,65.60 1110.61,68.99 1113.10,72.55 1115.43,76.25 1117.60,80.07 1119.58,83.99 1121.38,87.98 1122.98,92.01 1124.37,96.07 1125.53,100.13 1126.47,104.16 1127.18,108.13 1127.64,112.03 1127.87,115.83 1127.86,119.51 1127.60,123.03 1127.11,126.39 1126.38,129.56 1125.41,132.52 1124.22,135.26 1122.81,137.75 1121.19,139.98 1119.37,141.94 1117.36,143.61 1115.18,144.99 1112.83,146.06 1110.33,146.82 1107.70,147.27 1104.95,147.40 1102.10,147.21" fill="none" stroke="#77716b" stroke-width="0.8"/><polyline points="1078.09,42.53 1081.02,43.04 1084.01,43.86 1087.06,45.00 1090.13,46.43 1093.21,48.16 1096.27,50.17 1099.31,52.45 1102.30,54.99 1105.23,57.77 1108.07,60.77 1110.80,63.98 1113.42,67.37 1115.90,70.93 1118.24,74.63 1120.40,78.45 1122.39,82.37 1124.19,86.36 1125.79,90.39 1127.17,94.45 1128.34,98.51 1129.28,102.54 1129.98,106.51 1130.45,110.41 1130.68,114.21 1130.67,117.89 1130.41,121.41 1129.92,124.77 1129.19,127.94 1128.22,130.90 1127.03,133.64 1125.62,136.13 1124.00,138.36 1122.18,140.32 1120.17,141.99 1117.98,143.37 1115.63,144.44 1113.14,145.20 1110.50,145.65 1107.76,145.78 1104.91,145.59" fill="none" stroke="#f2efeb" stroke-width="2.0"/><polygon points="1023.00,41.10 1025.00,40.42 1034.36,35.02 1032.36,35.70" fill="#e6e0da" stroke="#e6e0da" stroke-width="0.6"/><polygon points="1025.00,40.42 1027.07,39.88 1036.43,34.48 1034.36,35.02" fill="#e6e0da" stroke="#e6e0da" stroke-width="0.6"/><polygon points="1027.07,39.88 1029.19,39.49 1038.55,34.09 1036.43,34.48" fill="#e6e0da" stroke="#e6e0da" stroke-width="0.6"/><polygon points="1029.19,39.49 1031.38,39.24 1040.74,33.84 1038.55,34.09" fill="#e6e0da" stroke="#e6e0da" stroke-width="0.6"/><polygon points="1031.38,39.24 1033.61,39.14 1042.97,33.74 1040.74,33.84" fill="#e6e0da" stroke="#e6e0da" stroke-width="0.6"/><polygon points="1033.61,39.14 1035.89,39.19 1045.25,33.79 1042.97,33.74" fill="#e6e0da" stroke="#e6e0da" stroke-width="0.6"/><polygon points="1035.89,39.19 1038.22,39.38 1047.58,33.98 1045.25,33.79" fill="#e6e0da" stroke="#e6e0da" stroke-width="0.6"/><polygon points="1038.22,39.38 1040.58,39.72 1049.94,34.32 1047.58,33.98" fill="#e6e0da" stroke="#e6e0da" stroke-width="0.6"/><polygon points="1040.58,39.72 1042.98,40.20 1052.34,34.80 1049.94,34.32" fill="#e6e0da" stroke="#e6e0da" stroke-width="0.6"/><polygon points="1042.98,40.20 1045.40,40.82 1054.76,35.42 1052.34,34.80" fill="#e6e0da" stroke="#e6e0da" stroke-width="0.6"/><polygon points="1045.40,40.82 1047.85,41.59 1057.21,36.19 1054.76,35.42" fill="#e6e0da" stroke="#e6e0da" stroke-width="0.6"/><polygon points="1047.85,41.59 1050.32,42.51 1059.68,37.11 1057.21,36.19" fill="#e6e0da" stroke="#e6e0da" stroke-width="0.6"/><polygon points="1050.32,42.51 1052.81,43.56 1062.17,38.16 1059.68,37.11" fill="#e6e0da" stroke="#e6e0da" stroke-width="0.6"/><polygon points="1052.81,43.56 1055.30,44.74 1064.66,39.34 1062.17,38.16" fill="#e6e0da" stroke="#e6e0da" stroke-width="0.6"/><polygon points="1055.30,44.74 1057.80,46.07 1067.16,40.67 1064.66,39.34" fill="#e6e0da" stroke="#e6e0da" stroke-width="0.6"/><polygon points="1057.80,46.07 1060.30,47.52 1069.66,42.12 1067.16,40.67" fill="#e6e0da" stroke="#e6e0da" stroke-width="0.6"/><polygon points="1060.30,47.52 1062.79,49.11 1072.15,43.71 1069.66,42.12" fill="#e6e0da" stroke="#e6e0da" stroke-width="0.6"/><polygon points="1062.79,49.11 1065.28,50.82 1074.64,45.42 1072.15,43.71" fill="#e5dfd9" stroke="#e5dfd9" stroke-width="0.6"/><polygon points="1065.28,50.82 1067.75,52.66 1077.11,47.26 1074.64,45.42" fill="#e2dcd6" stroke="#e2dcd6" stroke-width="0.6"/><polygon points="1067.75,52.66 1070.20,54.61 1079.56,49.21 1077.11,47.26" fill="#dfd9d3" stroke="#dfd9d3" stroke-width="0.6"/><polygon points="1070.20,54.61 1072.62,56.68 1081.98,51.28 1079.56,49.21" fill="#dbd5cf" stroke="#dbd5cf" stroke-width="0.6"/><polygon points="1072.62,56.68 1075.02,58.87 1084.38,53.47 1081.98,51.28" fill="#d8d2cc" stroke="#d8d2cc" stroke-width="0.6"/><polygon points="1075.02,58.87 1077.38,61.16 1086.74,55.76 1084.38,53.47" fill="#d4cec8" stroke="#d4cec8" stroke-width="0.6"/><polygon points="1077.38,61.16 1079.71,63.55 1089.07,58.15 1086.74,55.76" fill="#d0cac5" stroke="#d0cac5" stroke-width="0.6"/><polygon points="1079.71,63.55 1081.99,66.04 1091.35,60.64 1089.07,58.15" fill="#ccc7c1" stroke="#ccc7c1" stroke-width="0.6"/><polygon points="1081.99,66.04 1084.22,68.63 1093.58,63.23 1091.35,60.64" fill="#c8c3bd" stroke="#c8c3bd" stroke-width="0.6"/><polygon points="1084.22,68.63 1086.41,71.30 1095.77,65.90 1093.58,63.23" fill="#c4bfb9" stroke="#c4bfb9" stroke-width="0.6"/><polygon points="1086.41,71.30 1088.53,74.06 1097.89,68.66 1095.77,65.90" fill="#c0bab5" stroke="#c0bab5" stroke-width="0.6"/><polygon points="1088.53,74.06 1090.60,76.89 1099.96,71.49 1097.89,68.66" fill="#bcb6b1" stroke="#bcb6b1" stroke-width="0.6"/><polygon points="1090.60,76.89 1092.60,79.79 1101.96,74.39 1099.96,71.49" fill="#b7b2ad" stroke="#b7b2ad" stroke-width="0.6"/><polygon points="1092.60,79.79 1092.60,79.79 1101.96,74.39 1101.96,74.39" fill="#e6e0da" stroke="#e6e0da" stroke-width="0.6"/><polygon points="1092.60,79.79 1092.77,81.82 1102.13,76.42 1101.96,74.39" fill="#66625e" stroke="#66625e" stroke-width="0.6"/><polygon points="1092.77,81.82 1093.20,83.93 1102.56,78.53 1102.13,76.42" fill="#75716d" stroke="#75716d" stroke-width="0.6"/><polygon points="1093.20,83.93 1093.89,86.08 1103.25,80.68 1102.56,78.53" fill="#86817d" stroke="#86817d" stroke-width="0.6"/><polygon points="1093.89,86.08 1094.81,88.19 1104.17,82.79 1103.25,80.68" fill="#97928d" stroke="#97928d" stroke-width="0.6"/><polygon points="1094.81,88.19 1095.94,90.21 1105.30,84.81 1104.17,82.79" fill="#a8a39d" stroke="#a8a39d" stroke-width="0.6"/><polygon points="1095.94,90.21 1097.25,92.09 1106.61,86.69 1105.30,84.81" fill="#b8b3ae" stroke="#b8b3ae" stroke-width="0.6"/><polygon points="1097.25,92.09 1098.70,93.77 1108.06,88.37 1106.61,86.69" fill="#c8c2bd" stroke="#c8c2bd" stroke-width="0.6"/><polygon points="1098.70,93.77 1100.25,95.21 1109.61,89.81 1108.06,88.37" fill="#d7d1cb" stroke="#d7d1cb" stroke-width="0.6"/><polygon points="1100.25,95.21 1100.25,179.00 1109.61,173.60 1109.61,89.81" fill="#5e5a56" stroke="#5e5a56" stroke-width="0.6"/><polygon points="1100.25,179.00 1098.70,178.71 1108.06,173.31 1109.61,173.60" fill="#5e5a56" stroke="#5e5a56" stroke-width="0.6"/><polygon points="1098.70,178.71 1097.25,178.78 1106.61,173.38 1108.06,173.31" fill="#5e5a56" stroke="#5e5a56" stroke-width="0.6"/><polygon points="1097.25,178.78 1095.94,179.20 1105.30,173.80 1106.61,173.38" fill="#5e5a56" stroke="#5e5a56" stroke-width="0.6"/><polygon points="1095.94,179.20 1094.81,179.97 1104.17,174.57 1105.30,173.80" fill="#5e5a56" stroke="#5e5a56" stroke-width="0.6"/><polygon points="1094.81,179.97 1093.89,181.06 1103.25,175.66 1104.17,174.57" fill="#5e5a56" stroke="#5e5a56" stroke-width="0.6"/><polygon points="1093.89,181.06 1093.20,182.44 1102.56,177.04 1103.25,175.66" fill="#5e5a56" stroke="#5e5a56" stroke-width="0.6"/><polygon points="1093.20,182.44 1092.77,184.07 1102.13,178.67 1102.56,177.04" fill="#5e5a56" stroke="#5e5a56" stroke-width="0.6"/><polygon points="1092.77,184.07 1092.60,185.91 1101.96,180.51 1102.13,178.67" fill="#5e5a56" stroke="#5e5a56" stroke-width="0.6"/><polygon points="1092.60,185.91 1092.60,185.90 1101.96,180.50 1101.96,180.51" fill="#7e7a75" stroke="#7e7a75" stroke-width="0.6"/><polygon points="1092.60,185.90 1090.60,186.58 1099.96,181.18 1101.96,180.50" fill="#5e5a56" stroke="#5e5a56" stroke-width="0.6"/><polygon points="1090.60,186.58 1088.53,187.12 1097.89,181.72 1099.96,181.18" fill="#5e5a56" stroke="#5e5a56" stroke-width="0.6"/><polygon points="1088.53,187.12 1086.41,187.51 1095.77,182.11 1097.89,181.72" fill="#5e5a56" stroke="#5e5a56" stroke-width="0.6"/><polygon points="1086.41,187.51 1084.22,187.76 1093.58,182.36 1095.77,182.11" fill="#5e5a56" stroke="#5e5a56" stroke-width="0.6"/><polygon points="1084.22,187.76 1081.99,187.86 1091.35,182.46 1093.58,182.36" fill="#5e5a56" stroke="#5e5a56" stroke-width="0.6"/><polygon points="1081.99,187.86 1079.71,187.81 1089.07,182.41 1091.35,182.46" fill="#5e5a56" stroke="#5e5a56" stroke-width="0.6"/><polygon points="1079.71,187.81 1077.38,187.62 1086.74,182.22 1089.07,182.41" fill="#5e5a56" stroke="#5e5a56" stroke-width="0.6"/><polygon points="1077.38,187.62 1075.02,187.28 1084.38,181.88 1086.74,182.22" fill="#5e5a56" stroke="#5e5a56" stroke-width="0.6"/><polygon points="1075.02,187.28 1072.62,186.80 1081.98,181.40 1084.38,181.88" fill="#5e5a56" stroke="#5e5a56" stroke-width="0.6"/><polygon points="1072.62,186.80 1070.20,186.18 1079.56,180.78 1081.98,181.40" fill="#5e5a56" stroke="#5e5a56" stroke-width="0.6"/><polygon points="1070.20,186.18 1067.75,185.41 1077.11,180.01 1079.56,180.78" fill="#5e5a56" stroke="#5e5a56" stroke-width="0.6"/><polygon points="1067.75,185.41 1065.28,184.49 1074.64,179.09 1077.11,180.01" fill="#5e5a56" stroke="#5e5a56" stroke-width="0.6"/><polygon points="1065.28,184.49 1062.79,183.44 1072.15,178.04 1074.64,179.09" fill="#5e5a56" stroke="#5e5a56" stroke-width="0.6"/><polygon points="1062.79,183.44 1060.30,182.26 1069.66,176.86 1072.15,178.04" fill="#5e5a56" stroke="#5e5a56" stroke-width="0.6"/><polygon points="1060.30,182.26 1057.80,180.93 1067.16,175.53 1069.66,176.86" fill="#5e5a56" stroke="#5e5a56" stroke-width="0.6"/><polygon points="1057.80,180.93 1055.30,179.48 1064.66,174.08 1067.16,175.53" fill="#5e5a56" stroke="#5e5a56" stroke-width="0.6"/><polygon points="1055.30,179.48 1052.81,177.89 1062.17,172.49 1064.66,174.08" fill="#5e5a56" stroke="#5e5a56" stroke-width="0.6"/><polygon points="1052.81,177.89 1050.32,176.18 1059.68,170.78 1062.17,172.49" fill="#5e5a56" stroke="#5e5a56" stroke-width="0.6"/><polygon points="1050.32,176.18 1047.85,174.34 1057.21,168.94 1059.68,170.78" fill="#5e5a56" stroke="#5e5a56" stroke-width="0.6"/><polygon points="1047.85,174.34 1045.40,172.39 1054.76,166.99 1057.21,168.94" fill="#5e5a56" stroke="#5e5a56" stroke-width="0.6"/><polygon points="1045.40,172.39 1042.98,170.32 1052.34,164.92 1054.76,166.99" fill="#5e5a56" stroke="#5e5a56" stroke-width="0.6"/><polygon points="1042.98,170.32 1040.58,168.13 1049.94,162.73 1052.34,164.92" fill="#5e5a56" stroke="#5e5a56" stroke-width="0.6"/><polygon points="1040.58,168.13 1038.22,165.84 1047.58,160.44 1049.94,162.73" fill="#625d59" stroke="#625d59" stroke-width="0.6"/><polygon points="1038.22,165.84 1035.89,163.45 1045.25,158.05 1047.58,160.44" fill="#65615d" stroke="#65615d" stroke-width="0.6"/><polygon points="1035.89,163.45 1033.61,160.96 1042.97,155.56 1045.25,158.05" fill="#696561" stroke="#696561" stroke-width="0.6"/><polygon points="1033.61,160.96 1031.38,158.37 1040.74,152.97 1042.97,155.56" fill="#6d6965" stroke="#6d6965" stroke-width="0.6"/><polygon points="1031.38,158.37 1029.19,155.70 1038.55,150.30 1040.74,152.97" fill="#716d69" stroke="#716d69" stroke-width="0.6"/><polygon points="1029.19,155.70 1027.07,152.94 1036.43,147.54 1038.55,150.30" fill="#76716d" stroke="#76716d" stroke-width="0.6"/><polygon points="1027.07,152.94 1025.00,150.11 1034.36,144.71 1036.43,147.54" fill="#7a7571" stroke="#7a7571" stroke-width="0.6"/><polygon points="1025.00,150.11 1023.00,147.21 1032.36,141.81 1034.36,144.71" fill="#7e7a75" stroke="#7e7a75" stroke-width="0.6"/><polygon points="1023.00,147.21 1023.00,147.21 1032.36,141.81 1032.36,141.81" fill="#5e5a56" stroke="#5e5a56" stroke-width="0.6"/><polygon points="1023.00,147.21 1022.83,145.18 1032.19,139.78 1032.36,141.81" fill="#cfcac4" stroke="#cfcac4" stroke-width="0.6"/><polygon points="1022.83,145.18 1022.40,143.07 1031.76,137.67 1032.19,139.78" fill="#c0bbb5" stroke="#c0bbb5" stroke-width="0.6"/><polygon points="1022.40,143.07 1021.71,140.92 1031.07,135.52 1031.76,137.67" fill="#b0aaa5" stroke="#b0aaa5" stroke-width="0.6"/><polygon points="1021.71,140.92 1020.79,138.81 1030.15,133.41 1031.07,135.52" fill="#9f9a95" stroke="#9f9a95" stroke-width="0.6"/><polygon points="1020.79,138.81 1019.66,136.79 1029.02,131.39 1030.15,133.41" fill="#8e8984" stroke="#8e8984" stroke-width="0.6"/><polygon points="1019.66,136.79 1018.35,134.91 1027.71,129.51 1029.02,131.39" fill="#7d7974" stroke="#7d7974" stroke-width="0.6"/><polygon points="1018.35,134.91 1016.90,133.23 1026.26,127.83 1027.71,129.51" fill="#6d6965" stroke="#6d6965" stroke-width="0.6"/><polygon points="1016.90,133.23 1015.35,131.79 1024.71,126.39 1026.26,127.83" fill="#5f5b57" stroke="#5f5b57" stroke-width="0.6"/><polygon points="1015.35,131.79 1015.35,48.00 1024.71,42.60 1024.71,126.39" fill="#d8d2cc" stroke="#d8d2cc" stroke-width="0.6"/><polygon points="1015.35,48.00 1016.90,48.29 1026.26,42.89 1024.71,42.60" fill="#e6e0da" stroke="#e6e0da" stroke-width="0.6"/><polygon points="1016.90,48.29 1018.35,48.22 1027.71,42.82 1026.26,42.89" fill="#e6e0da" stroke="#e6e0da" stroke-width="0.6"/><polygon points="1018.35,48.22 1019.66,47.80 1029.02,42.40 1027.71,42.82" fill="#e6e0da" stroke="#e6e0da" stroke-width="0.6"/><polygon points="1019.66,47.80 1020.79,47.03 1030.15,41.63 1029.02,42.40" fill="#e6e0da" stroke="#e6e0da" stroke-width="0.6"/><polygon points="1020.79,47.03 1021.71,45.94 1031.07,40.54 1030.15,41.63" fill="#e6e0da" stroke="#e6e0da" stroke-width="0.6"/><polygon points="1021.71,45.94 1022.40,44.56 1031.76,39.16 1031.07,40.54" fill="#e6e0da" stroke="#e6e0da" stroke-width="0.6"/><polygon points="1022.40,44.56 1022.83,42.93 1032.19,37.53 1031.76,39.16" fill="#e6e0da" stroke="#e6e0da" stroke-width="0.6"/><polygon points="1022.83,42.93 1023.00,41.09 1032.36,35.69 1032.19,37.53" fill="#e0dad4" stroke="#e0dad4" stroke-width="0.6"/><polygon points="1023.00,41.09 1023.00,41.10 1032.36,35.70 1032.36,35.69" fill="#b7b2ac" stroke="#b7b2ac" stroke-width="0.6"/><polygon points="1023.00,41.10 1025.00,40.42 1027.07,39.88 1029.19,39.49 1031.38,39.24 1033.61,39.14 1035.89,39.19 1038.22,39.38 1040.58,39.72 1042.98,40.20 1045.40,40.82 1047.85,41.59 1050.32,42.51 1052.81,43.56 1055.30,44.74 1057.80,46.07 1060.30,47.52 1062.79,49.11 1065.28,50.82 1067.75,52.66 1070.20,54.61 1072.62,56.68 1075.02,58.87 1077.38,61.16 1079.71,63.55 1081.99,66.04 1084.22,68.63 1086.41,71.30 1088.53,74.06 1090.60,76.89 1092.60,79.79 1092.60,79.79 1092.77,81.82 1093.20,83.93 1093.89,86.08 1094.81,88.19 1095.94,90.21 1097.25,92.09 1098.70,93.77 1100.25,95.21 1100.25,179.00 1098.70,178.71 1097.25,178.78 1095.94,179.20 1094.81,179.97 1093.89,181.06 1093.20,182.44 1092.77,184.07 1092.60,185.91 1092.60,185.90 1090.60,186.58 1088.53,187.12 1086.41,187.51 1084.22,187.76 1081.99,187.86 1079.71,187.81 1077.38,187.62 1075.02,187.28 1072.62,186.80 1070.20,186.18 1067.75,185.41 1065.28,184.49 1062.79,183.44 1060.30,182.26 1057.80,180.93 1055.30,179.48 1052.81,177.89 1050.32,176.18 1047.85,174.34 1045.40,172.39 1042.98,170.32 1040.58,168.13 1038.22,165.84 1035.89,163.45 1033.61,160.96 1031.38,158.37 1029.19,155.70 1027.07,152.94 1025.00,150.11 1023.00,147.21 1023.00,147.21 1022.83,145.18 1022.40,143.07 1021.71,140.92 1020.79,138.81 1019.66,136.79 1018.35,134.91 1016.90,133.23 1015.35,131.79 1015.35,48.00 1016.90,48.29 1018.35,48.22 1019.66,47.80 1020.79,47.03 1021.71,45.94 1022.40,44.56 1022.83,42.93 1023.00,41.09" fill="#5a5652" stroke="#2a2826" stroke-width="0.7"/><circle r="80.6" fill="#4f4b48" stroke="#2a2826" stroke-width="0.8" vector-effect="non-scaling-stroke" transform="matrix(0.464 0.258 0.0 0.555 1057.80 113.50)" /><circle r="76.4" fill="#2e2c2a" stroke="none" stroke-width="0.8" vector-effect="non-scaling-stroke" transform="matrix(0.464 0.258 0.0 0.555 1057.80 113.50)" /><polyline points="1025.10,81.08 1026.49,77.92 1028.21,75.14 1030.24,72.76 1032.56,70.81 1035.14,69.31 1037.96,68.27 1041.00,67.71 1044.20,67.62 1047.55,68.02 1051.01,68.90 1054.54,70.25 1058.10,72.05 1061.66,74.28 1065.18,76.93 1068.63,79.96 1071.95,83.34 1075.13,87.04 1078.13,91.02 1080.92,95.24 1083.46,99.64 1085.73,104.20 1087.71,108.85 1089.37,113.55 1090.70,118.24 1091.69,122.89 1092.32,127.44 1092.59,131.85 1092.49,136.06 1092.03,140.03 1091.21,143.72 1090.04,147.10 1088.53,150.13 1086.69,152.77 1084.56,154.99 1082.14,156.79 1079.46,158.12 1076.56,158.99 1073.46,159.38 1070.20,159.29 1066.81,158.71" fill="none" stroke="#e9e6e2" stroke-width="1.6"/><circle r="73.5" fill="#242322" stroke="none" stroke-width="0.8" vector-effect="non-scaling-stroke" transform="matrix(0.464 0.258 0.0 0.555 1057.80 113.50)" /><circle r="71" fill="#1c1b1a" stroke="none" stroke-width="0.8" vector-effect="non-scaling-stroke" transform="matrix(0.464 0.258 0.0 0.555 1059.67 112.42)" /><polygon points="1027.32,114.05 1027.38,112.52 1027.55,111.06 1027.83,109.68 1028.23,108.40 1028.73,107.23 1029.34,106.18 1030.04,105.25 1030.84,104.45 1031.73,103.78 1047.17,94.87 1048.14,94.35 1049.18,93.98 1050.28,93.75 1051.45,93.67 1052.66,93.74 1053.91,93.97 1055.19,94.34 1056.49,94.86 1057.80,95.52 1059.11,96.31 1060.41,97.24 1061.69,98.29 1062.94,99.46 1064.15,100.74 1065.32,102.11 1066.42,103.56 1067.46,105.10 1068.43,106.70 1069.32,108.34 1070.11,110.03 1070.82,111.75 1071.43,113.48 1071.93,115.20 1072.32,116.92 1072.61,118.61 1072.78,120.26 1072.83,121.86 1072.78,123.39 1072.61,124.85 1072.32,126.23 1071.93,127.51 1071.43,128.68 1070.82,129.73 1070.11,130.66 1069.32,131.46 1068.43,132.13 1052.99,141.04 1052.02,141.56 1050.98,141.93 1049.87,142.16 1048.71,142.24 1047.50,142.17 1046.25,141.94 1044.97,141.57 1043.67,141.05 1042.36,140.39 1041.05,139.60 1039.75,138.67 1038.47,137.62 1037.21,136.45 1036.00,135.17 1034.84,133.80 1033.73,132.35 1032.69,130.81 1031.73,129.21 1030.84,127.57 1030.04,125.88 1029.34,124.16 1028.73,122.43 1028.23,120.71 1027.83,118.99 1027.55,117.30 1027.38,115.65" fill="#232221" stroke="none" stroke-width="0.8"/><circle r="32.4" fill="#3c3b3a" stroke="#111" stroke-width="0.7" vector-effect="non-scaling-stroke" transform="matrix(0.464 0.258 0.0 0.555 1042.36 122.41)" /><circle r="23.5" fill="#141414" stroke="none" stroke-width="0.8" vector-effect="non-scaling-stroke" transform="matrix(0.464 0.258 0.0 0.555 1042.36 122.41)" /><circle r="21" fill="#4a4a4a" stroke="none" stroke-width="0.8" vector-effect="non-scaling-stroke" transform="matrix(0.464 0.258 0.0 0.555 1043.76 121.60)" /><circle r="15" fill="#2e3038" stroke="none" stroke-width="0.8" vector-effect="non-scaling-stroke" transform="matrix(0.464 0.258 0.0 0.555 1048.43 118.85)" /><circle r="12.5" fill="#c9cdd8" stroke="none" stroke-width="0.8" vector-effect="non-scaling-stroke" transform="matrix(0.464 0.258 0.0 0.555 1049.36 118.25)" /><circle r="10.5" fill="#5d6478" stroke="none" stroke-width="0.8" vector-effect="non-scaling-stroke" transform="matrix(0.464 0.258 0.0 0.555 1049.82 117.95)" /><circle r="6.5" fill="#e8e2dc" stroke="#2a2826" stroke-width="0.7" vector-effect="non-scaling-stroke" transform="matrix(0.464 0.258 0.0 0.555 1032.98 48.47)" /><circle r="6.5" fill="#e8e2dc" stroke="#2a2826" stroke-width="0.7" vector-effect="non-scaling-stroke" transform="matrix(0.464 0.258 0.0 0.555 1082.62 76.08)" /><circle r="6.5" fill="#e8e2dc" stroke="#2a2826" stroke-width="0.7" vector-effect="non-scaling-stroke" transform="matrix(0.464 0.258 0.0 0.555 1032.98 150.92)" /><circle r="6.5" fill="#e8e2dc" stroke="#2a2826" stroke-width="0.7" vector-effect="non-scaling-stroke" transform="matrix(0.464 0.258 0.0 0.555 1082.62 178.53)" /><text x="0" y="0" font-size="12" font-weight="bold" fill="#151515" transform="translate(1102.5 105) rotate(88)" textLength="60" lengthAdjust="spacingAndGlyphs">PAF2P-15D</text>
<text x="294.3" y="9.9" font-size="11.05" font-weight="normal" fill="#1e1e1e" textLength="92.8" lengthAdjust="spacingAndGlyphs" >SPECIFICATIONS</text>
<text x="15.9" y="25.9" font-size="10.47" font-weight="normal" fill="#1e1e1e" textLength="99.3" lengthAdjust="spacingAndGlyphs" >INPUT MFD FROM</text>
<text x="24.5" y="37.1" font-size="12.35" font-weight="normal" fill="#1e1e1e" textLength="82.1" lengthAdjust="spacingAndGlyphs" >SM2000 FIBER*</text>
<text x="147.1" y="26.7" font-size="11.63" font-weight="normal" fill="#1e1e1e" textLength="64.3" lengthAdjust="spacingAndGlyphs" >OUTPUT 1/e</text>
<text x="212.0" y="22.6" font-size="7.80" font-weight="normal" fill="#1e1e1e" textLength="6.2" lengthAdjust="spacingAndGlyphs" >2</text>
<text x="224.5" y="26.7" font-size="11.63" font-weight="normal" fill="#1e1e1e" textLength="35.5" lengthAdjust="spacingAndGlyphs" >WAIST</text>
<text x="172.0" y="39.6" font-size="12.79" font-weight="normal" fill="#1e1e1e" textLength="63.0" lengthAdjust="spacingAndGlyphs" >DIAMETER*</text>
<text x="275.6" y="31.5" font-size="11.63" font-weight="normal" fill="#1e1e1e" textLength="130.6" lengthAdjust="spacingAndGlyphs" >MAX WAIST DISTANCE*</text>
<text x="438.3" y="31.5" font-size="11.63" font-weight="normal" fill="#1e1e1e" textLength="81.6" lengthAdjust="spacingAndGlyphs" >DIVERGENCE*</text>
<text x="581.9" y="25.6" font-size="11.34" font-weight="normal" fill="#1e1e1e" textLength="68.6" lengthAdjust="spacingAndGlyphs" >LENS CLEAR</text>
<text x="583.6" y="37.4" font-size="12.79" font-weight="normal" fill="#1e1e1e" textLength="65.6" lengthAdjust="spacingAndGlyphs" >APERATURE</text>
<text x="43.5" y="62.6" font-size="12.06" font-weight="normal" fill="#1e1e1e" textLength="45.0" lengthAdjust="spacingAndGlyphs" >13.0 µm</text>
<text x="178.5" y="62.6" font-size="12.06" font-weight="normal" fill="#1e1e1e" textLength="49.4" lengthAdjust="spacingAndGlyphs" >2.99 mm</text>
<text x="315.4" y="62.6" font-size="12.06" font-weight="normal" fill="#1e1e1e" textLength="52.0" lengthAdjust="spacingAndGlyphs" >1775 mm</text>
<text x="446.2" y="62.6" font-size="12.06" font-weight="normal" fill="#1e1e1e" textLength="65.3" lengthAdjust="spacingAndGlyphs" >0.850 mrad</text>
<text x="594.7" y="62.6" font-size="12.06" font-weight="normal" fill="#1e1e1e" textLength="43.0" lengthAdjust="spacingAndGlyphs" >5.0 mm</text>
<text x="4.1" y="92.6" font-size="11.92" font-weight="normal" fill="#1e1e1e" textLength="252.9" lengthAdjust="spacingAndGlyphs" >*CALCULATED USING 1996nm WAVELENGTH</text>
<text x="15.3" y="755.0" font-size="11.63" font-weight="normal" fill="#1e1e1e" textLength="40.4" lengthAdjust="spacingAndGlyphs" >NOTES:</text>
<text x="15.3" y="767.0" font-size="11.63" font-weight="normal" fill="#1e1e1e" textLength="419.4" lengthAdjust="spacingAndGlyphs" >FIBERPORT IS FACTORY ALIGNED FOR APPROX. COLLIMATION AT 2000nm.</text>
<text x="15.3" y="791.7" font-size="11.63" font-weight="normal" fill="#1e1e1e" textLength="162.9" lengthAdjust="spacingAndGlyphs" >INCLUDED BUT NOT SHOWN:</text>
<text x="57.8" y="803.6" font-size="11.63" font-weight="normal" fill="#1e1e1e" textLength="57.4" lengthAdjust="spacingAndGlyphs" >DUST CAP</text>
<text x="57.8" y="815.6" font-size="11.63" font-weight="normal" fill="#1e1e1e" textLength="82.9" lengthAdjust="spacingAndGlyphs" >0.028" HEX KEY</text>
<text x="57.8" y="827.5" font-size="11.63" font-weight="normal" fill="#1e1e1e" textLength="82.9" lengthAdjust="spacingAndGlyphs" >0.050" HEX KEY</text>
<text x="57.8" y="839.5" font-size="11.63" font-weight="normal" fill="#1e1e1e" textLength="126.4" lengthAdjust="spacingAndGlyphs" >0-80 LOCKING SCREW</text>
<text x="57.8" y="851.4" font-size="11.63" font-weight="normal" fill="#1e1e1e" textLength="243.9" lengthAdjust="spacingAndGlyphs" >SPW403 SPANNER FOR LOCKING COLLARS</text>
<text x="240.1" y="871.0" font-size="18.90" font-weight="normal" fill="#1e1e1e" textLength="215.4" lengthAdjust="spacingAndGlyphs" >FOR INFORMATION ONLY</text>
<text x="185.1" y="889.4" font-size="18.90" font-weight="normal" fill="#1e1e1e" textLength="329.2" lengthAdjust="spacingAndGlyphs" >NOT FOR MANUFACTURING PURPOSES</text>
<text x="732.3" y="778.0" font-size="12.21" font-weight="normal" fill="#1e1e1e" textLength="57.9" lengthAdjust="spacingAndGlyphs" >DRAWING</text>
<text x="732.3" y="789.4" font-size="12.21" font-weight="normal" fill="#1e1e1e" textLength="72.7" lengthAdjust="spacingAndGlyphs" >PROJECTION</text>
<text x="789.5" y="812.6" font-size="11.05" font-weight="normal" fill="#1e1e1e" textLength="34.9" lengthAdjust="spacingAndGlyphs" >NAME</text>
<text x="856.3" y="812.6" font-size="11.05" font-weight="normal" fill="#1e1e1e" textLength="29.1" lengthAdjust="spacingAndGlyphs" >DATE</text>
<text x="731.3" y="833.0" font-size="10.90" font-weight="normal" fill="#1e1e1e" textLength="38.9" lengthAdjust="spacingAndGlyphs" >DRAWN</text>
<text x="800.5" y="833.0" font-size="12.35" font-weight="normal" fill="#1e1e1e" textLength="12.8" lengthAdjust="spacingAndGlyphs" >ES</text>
<text x="841.6" y="832.8" font-size="12.35" font-weight="normal" fill="#1e1e1e" textLength="56.5" lengthAdjust="spacingAndGlyphs" >27/SEP/21</text>
<text x="723.5" y="852.0" font-size="11.34" font-weight="normal" fill="#1e1e1e" textLength="54.9" lengthAdjust="spacingAndGlyphs" >APPROVAL</text>
<text x="800.5" y="851.0" font-size="12.35" font-weight="normal" fill="#1e1e1e" textLength="14.3" lengthAdjust="spacingAndGlyphs" >PH</text>
<text x="841.6" y="850.8" font-size="12.35" font-weight="normal" fill="#1e1e1e" textLength="56.5" lengthAdjust="spacingAndGlyphs" >27/SEP/21</text>
<text x="737.3" y="872.3" font-size="9.30" font-weight="bold" fill="#1e1e1e" textLength="138.7" lengthAdjust="spacingAndGlyphs" >COPYRIGHT © 2021 BY THORLABS</text>
<text x="733.8" y="889.3" font-size="8.87" font-weight="normal" fill="#1e1e1e" textLength="169.5" lengthAdjust="spacingAndGlyphs" >VALUES IN PARENTHESIS ARE CALCULATED</text>
<text x="736.7" y="900.0" font-size="8.72" font-weight="normal" fill="#1e1e1e" textLength="163.6" lengthAdjust="spacingAndGlyphs" >AND MAY CONTAIN ROUNDOFF ERRORS</text>
<text x="962.7" y="788.0" font-size="29.80" font-weight="bold" fill="#1a1a1a" textLength="83.4" lengthAdjust="spacingAndGlyphs" stroke="#1a1a1a" stroke-width="1.2">THOR</text>
<text x="1043.0" y="788.0" font-size="29.80" font-weight="bold" fill="#fff" textLength="76.8" lengthAdjust="spacingAndGlyphs" stroke="#1a1a1a" stroke-width="1.3">LABS</text>
<text x="965.0" y="801.4" font-size="11.50" font-weight="normal" fill="#1e1e1e" textLength="153.5" lengthAdjust="spacing" stroke="#1e1e1e" stroke-width="0.45">www.thorlabs.com</text>
<text x="942.4" y="817.4" font-size="13.95" font-weight="normal" fill="#1e1e1e" textLength="195.3" lengthAdjust="spacingAndGlyphs" >FIBERPORT, FC/PC, f=15.3 mm,</text>
<text x="945.2" y="829.7" font-size="13.08" font-weight="normal" fill="#1e1e1e" textLength="190.1" lengthAdjust="spacingAndGlyphs" >1.8 - 2.4 µm, Ø3.00 mm WAIST</text>
<text x="910.8" y="847.2" font-size="11.92" font-weight="normal" fill="#1e1e1e" textLength="54.2" lengthAdjust="spacingAndGlyphs" >MATERIAL</text>
<text x="1009.5" y="867.1" font-size="17.01" font-weight="normal" fill="#1e1e1e" textLength="34.9" lengthAdjust="spacingAndGlyphs" >N/A</text>
<text x="1143.5" y="850.7" font-size="11.92" font-weight="normal" fill="#1e1e1e" textLength="22.7" lengthAdjust="spacingAndGlyphs" >REV</text>
<text x="1148.0" y="867.1" font-size="16.28" font-weight="normal" fill="#1e1e1e" textLength="13.8" lengthAdjust="spacingAndGlyphs" >D</text>
<text x="911.7" y="882.8" font-size="11.77" font-weight="normal" fill="#1e1e1e" textLength="36.4" lengthAdjust="spacingAndGlyphs" >ITEM #</text>
<text x="943.0" y="901.2" font-size="18.02" font-weight="normal" fill="#1e1e1e" textLength="90.5" lengthAdjust="spacingAndGlyphs" >PAF2P-15D</text>
<text x="1072.7" y="882.8" font-size="11.77" font-weight="normal" fill="#1e1e1e" textLength="94.2" lengthAdjust="spacingAndGlyphs" >APPROX WEIGHT</text>
<text x="1092.0" y="901.2" font-size="18.02" font-weight="normal" fill="#1e1e1e" textLength="62.4" lengthAdjust="spacingAndGlyphs" >0.09 kg</text>
<text x="180.0" y="284.9" font-size="13.66" font-weight="normal" fill="#1e1e1e" textLength="11.4" lengthAdjust="spacingAndGlyphs" >A</text>
<text x="180.0" y="641.6" font-size="13.66" font-weight="normal" fill="#1e1e1e" textLength="11.4" lengthAdjust="spacingAndGlyphs" >A</text>
<text x="20.8" y="343.6" font-size="11.34" font-weight="normal" fill="#1e1e1e" textLength="85.9" lengthAdjust="spacingAndGlyphs" >M2X0.2 SCREW</text>
<text x="5.6" y="359.8" font-size="11.63" font-weight="normal" fill="#1e1e1e" textLength="101.4" lengthAdjust="spacingAndGlyphs" >ADJUST TILT PLATE</text>
<text x="45.0" y="376.0" font-size="12.35" font-weight="normal" fill="#1e1e1e" textLength="61.9" lengthAdjust="spacingAndGlyphs" >(3 PLACES)</text>
<text x="61.7" y="552.8" font-size="12.21" font-weight="normal" fill="#1e1e1e" textLength="40.3" lengthAdjust="spacingAndGlyphs" >R0.13in</text>
<text x="56.5" y="568.5" font-size="12.50" font-weight="normal" fill="#1e1e1e" textLength="40.8" lengthAdjust="spacingAndGlyphs" >3.2mm</text>
<text x="2.4" y="585.1" font-size="12.65" font-weight="normal" fill="#1e1e1e" textLength="99.5" lengthAdjust="spacingAndGlyphs" >CLEARANCE FOR</text>
<text x="30.0" y="600.4" font-size="12.50" font-weight="normal" fill="#1e1e1e" textLength="71.9" lengthAdjust="spacingAndGlyphs" >CAGE RODS</text>
<text x="39.5" y="614.4" font-size="12.21" font-weight="normal" fill="#1e1e1e" textLength="62.5" lengthAdjust="spacingAndGlyphs" >(4 PLACES)</text>
<text x="373.5" y="345.7" font-size="12.35" font-weight="normal" fill="#1e1e1e" textLength="32.3" lengthAdjust="spacingAndGlyphs" >1.06in</text>
<text x="353.7" y="361.8" font-size="12.50" font-weight="normal" fill="#1e1e1e" textLength="47.1" lengthAdjust="spacingAndGlyphs" >27.0mm</text>
<text x="376.7" y="488.0" font-size="12.50" font-weight="normal" fill="#1e1e1e" textLength="86.1" lengthAdjust="spacingAndGlyphs" >M2X0.2 SCREW</text>
<text x="376.7" y="504.2" font-size="12.50" font-weight="normal" fill="#1e1e1e" textLength="106.0" lengthAdjust="spacingAndGlyphs" >LOCKING COLLAR</text>
<text x="376.8" y="520.8" font-size="12.35" font-weight="normal" fill="#1e1e1e" textLength="62.2" lengthAdjust="spacingAndGlyphs" >(3 PLACES)</text>
<text x="342.8" y="628.5" font-size="12.65" font-weight="normal" fill="#1e1e1e" textLength="88.0" lengthAdjust="spacingAndGlyphs" >COUNTERBORE</text>
<text x="342.8" y="643.6" font-size="12.50" font-weight="normal" fill="#1e1e1e" textLength="93.0" lengthAdjust="spacingAndGlyphs" >FOR MOUNTING</text>
<text x="342.8" y="660.8" font-size="12.79" font-weight="normal" fill="#1e1e1e" textLength="66.0" lengthAdjust="spacingAndGlyphs" >#2 SCREWS</text>
<text x="342.9" y="676.8" font-size="12.35" font-weight="normal" fill="#1e1e1e" textLength="61.9" lengthAdjust="spacingAndGlyphs" >(4 PLACES)</text>
<text x="545.8" y="173.6" font-size="11.34" font-weight="normal" fill="#1e1e1e" textLength="35.9" lengthAdjust="spacingAndGlyphs" >0.87in</text>
<text x="540.2" y="189.8" font-size="12.50" font-weight="normal" fill="#1e1e1e" textLength="47.6" lengthAdjust="spacingAndGlyphs" >22.2mm</text>
<text x="683.5" y="217.0" font-size="12.21" font-weight="normal" fill="#1e1e1e" textLength="33.9" lengthAdjust="spacingAndGlyphs" >0.50in</text>
<text x="677.3" y="232.5" font-size="12.50" font-weight="normal" fill="#1e1e1e" textLength="47.0" lengthAdjust="spacingAndGlyphs" >12.8mm</text>
<text x="683.5" y="250.2" font-size="11.92" font-weight="normal" fill="#1e1e1e" textLength="33.8" lengthAdjust="spacingAndGlyphs" >0.13in</text>
<text x="680.1" y="266.0" font-size="12.50" font-weight="normal" fill="#1e1e1e" textLength="40.4" lengthAdjust="spacingAndGlyphs" >3.2mm</text>
<text x="683.5" y="287.1" font-size="11.92" font-weight="normal" fill="#1e1e1e" textLength="33.8" lengthAdjust="spacingAndGlyphs" >0.03in</text>
<text x="680.1" y="302.8" font-size="12.50" font-weight="normal" fill="#1e1e1e" textLength="40.4" lengthAdjust="spacingAndGlyphs" >0.6mm</text>
<text x="408.1" y="403.8" font-size="12.50" font-weight="normal" fill="#1e1e1e" textLength="38.0" lengthAdjust="spacingAndGlyphs" >FC/PC</text>
<text x="376.3" y="420.6" font-size="12.50" font-weight="normal" fill="#1e1e1e" textLength="73.5" lengthAdjust="spacingAndGlyphs" >RECEPTACLE</text>
<text x="408.5" y="572.4" font-size="12.21" font-weight="normal" fill="#1e1e1e" textLength="122.6" lengthAdjust="spacingAndGlyphs" >SM1 (1.035-40) SERIES</text>
<text x="425.8" y="587.2" font-size="12.79" font-weight="normal" fill="#1e1e1e" textLength="105.2" lengthAdjust="spacingAndGlyphs" >EXTERNAL THREAD</text>
<text x="733.7" y="495.8" font-size="12.50" font-weight="normal" fill="#1e1e1e" textLength="86.7" lengthAdjust="spacingAndGlyphs" >ASPHERIC LENS</text>
<text x="733.8" y="513.0" font-size="11.80" font-weight="normal" fill="#1e1e1e" textLength="111.7" lengthAdjust="spacingAndGlyphs" >f=15.3mm, NA=0.16</text>
<text x="733.7" y="528.3" font-size="12.65" font-weight="normal" fill="#1e1e1e" textLength="127.8" lengthAdjust="spacingAndGlyphs" >AR COATED 1.8-2.4µm</text>
<text x="708.5" y="577.9" font-size="12.06" font-weight="normal" fill="#1e1e1e" textLength="34.4" lengthAdjust="spacingAndGlyphs" >0.13in</text>
<text x="705.8" y="594.0" font-size="12.50" font-weight="normal" fill="#1e1e1e" textLength="39.8" lengthAdjust="spacingAndGlyphs" >3.4mm</text>
<text x="593.0" y="603.0" font-size="12.06" font-weight="normal" fill="#1e1e1e" textLength="33.7" lengthAdjust="spacingAndGlyphs" >0.70in</text>
<text x="587.0" y="620.0" font-size="12.50" font-weight="normal" fill="#1e1e1e" textLength="46.2" lengthAdjust="spacingAndGlyphs" >17.8mm</text>
<text x="559.6" y="660.6" font-size="13.81" font-weight="normal" fill="#1e1e1e" textLength="75.1" lengthAdjust="spacingAndGlyphs" >SECTION A-A</text>
<text x="839.1" y="307.7" font-size="12.21" font-weight="normal" fill="#1e1e1e" textLength="32.1" lengthAdjust="spacingAndGlyphs" >1.50in</text>
<text x="829.1" y="321.4" font-size="12.50" font-weight="normal" fill="#1e1e1e" textLength="45.4" lengthAdjust="spacingAndGlyphs" >38.1mm</text>
<text x="1117.5" y="322.1" font-size="11.92" font-weight="normal" fill="#1e1e1e" textLength="33.5" lengthAdjust="spacingAndGlyphs" >0.99in</text>
<text x="1109.1" y="338.2" font-size="12.50" font-weight="normal" fill="#1e1e1e" textLength="46.7" lengthAdjust="spacingAndGlyphs" >25.1mm</text>
<text x="1092.7" y="434.4" font-size="11.63" font-weight="normal" fill="#1e1e1e" textLength="32.9" lengthAdjust="spacingAndGlyphs" >1.14in</text>
<text x="1085.9" y="450.9" font-size="12.50" font-weight="normal" fill="#1e1e1e" textLength="45.9" lengthAdjust="spacingAndGlyphs" >28.9mm</text>
<text x="963.9" y="593.5" font-size="13.23" font-weight="normal" fill="#1e1e1e" textLength="34.0" lengthAdjust="spacingAndGlyphs" >0.66in</text>
<text x="957.0" y="609.6" font-size="12.50" font-weight="normal" fill="#1e1e1e" textLength="47.6" lengthAdjust="spacingAndGlyphs" >16.7mm</text>
<text x="964.4" y="630.4" font-size="12.79" font-weight="normal" fill="#1e1e1e" textLength="32.8" lengthAdjust="spacingAndGlyphs" >1.13in</text>
<text x="957.0" y="646.2" font-size="12.50" font-weight="normal" fill="#1e1e1e" textLength="47.6" lengthAdjust="spacingAndGlyphs" >28.6mm</text>
<text x="798.0" y="572.8" font-size="12.21" font-weight="normal" fill="#1e1e1e" textLength="34.7" lengthAdjust="spacingAndGlyphs" >0.33in</text>
<text x="790.4" y="589.7" font-size="12.50" font-weight="normal" fill="#1e1e1e" textLength="40.7" lengthAdjust="spacingAndGlyphs" >8.4mm</text>
<text x="941.5" y="215.8" font-size="12.06" font-weight="normal" fill="#1e1e1e" textLength="93.9" lengthAdjust="spacingAndGlyphs" >ISOMETRIC VIEW</text>
<text x="960.0" y="227.7" font-size="12.06" font-weight="normal" fill="#1e1e1e" textLength="55.7" lengthAdjust="spacingAndGlyphs" >SCALE 1:1</text>
</svg>
</body></html>
